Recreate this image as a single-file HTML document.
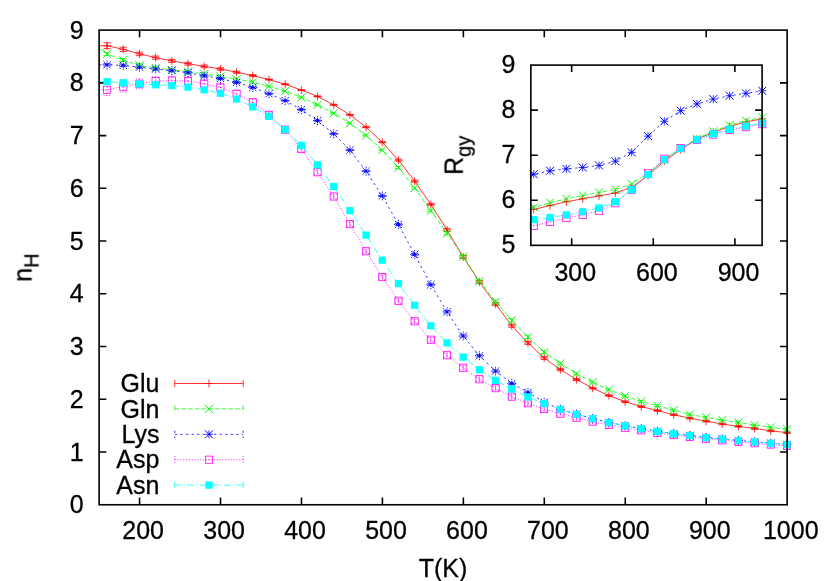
<!DOCTYPE html>
<html><head><meta charset="utf-8"><title>n_H vs T</title>
<style>html,body{margin:0;padding:0;background:#fff;}body{width:830px;height:581px;position:relative;overflow:hidden;font-family:"Liberation Sans",sans-serif;}</style>
</head><body>
<svg width="830" height="581" viewBox="0 0 830 581" style="position:absolute;left:0;top:0">
<rect width="830" height="581" fill="#fff"/>
<g stroke="#000" stroke-width="1.6" fill="none" stroke-linecap="butt"><path d="M139.57 504.75V497.55M139.57 30.1V37.3"/><path d="M220.52 504.75V497.55M220.52 30.1V37.3"/><path d="M301.47 504.75V497.55M301.47 30.1V37.3"/><path d="M382.41 504.75V497.55M382.41 30.1V37.3"/><path d="M463.36 504.75V497.55M463.36 30.1V37.3"/><path d="M544.31 504.75V497.55M544.31 30.1V37.3"/><path d="M625.26 504.75V497.55M625.26 30.1V37.3"/><path d="M706.2 504.75V497.55M706.2 30.1V37.3"/><path d="M99.1 452.01H106.3M787.15 452.01H779.95"/><path d="M99.1 399.27H106.3M787.15 399.27H779.95"/><path d="M99.1 346.53H106.3M787.15 346.53H779.95"/><path d="M99.1 293.79H106.3M787.15 293.79H779.95"/><path d="M99.1 241.06H106.3M787.15 241.06H779.95"/><path d="M99.1 188.32H106.3M787.15 188.32H779.95"/><path d="M99.1 135.58H106.3M787.15 135.58H779.95"/><path d="M99.1 82.84H106.3M787.15 82.84H779.95"/></g>
<path d="M99.1 45.74 L107.09 45.74 L123.28 49.32 L139.47 53.91 L155.66 57.64 L171.85 60.86 L188.03 63.75 L204.22 66.39 L220.41 69.02 L236.6 72.18 L252.79 75.6 L268.97 79.55 L285.16 84.29 L301.35 90.09 L317.54 96.41 L333.73 104.83 L349.91 114.84 L366.1 127.16 L382.29 142.23 L398.48 160.13 L414.67 181.2 L430.85 204.37 L447.04 229.92 L463.23 257.04 L479.42 281.95 L495.61 304.18 L511.79 325.77 L527.98 342.89 L544.17 357.95 L560.36 369.54 L576.55 379.55 L592.73 388.18 L608.92 395.56 L625.11 401.72 L641.3 406.62 L657.49 410.57 L673.67 414.78 L689.86 418.2 L706.05 421.15 L722.24 424 L738.43 426.37 L754.61 428.47 L770.8 430.84 L786.99 432.69" stroke="#ff0000" stroke-width="0.8" fill="none" stroke-linejoin="round"/><path d="M107.09 42.84V48.64M103.49 42.84H110.69M103.49 48.64H110.69" stroke="#ff0000" stroke-width="0.8" fill="none"/><path d="M103.09 45.74H111.09M107.09 41.74V49.74" stroke="#ff0000" stroke-width="0.8" fill="none"/><path d="M123.28 47.22V51.42M119.68 47.22H126.88M119.68 51.42H126.88" stroke="#ff0000" stroke-width="0.8" fill="none"/><path d="M119.28 49.32H127.28M123.28 45.32V53.32" stroke="#ff0000" stroke-width="0.8" fill="none"/><path d="M139.47 52.16V55.66M135.87 52.16H143.07M135.87 55.66H143.07" stroke="#ff0000" stroke-width="0.8" fill="none"/><path d="M135.47 53.91H143.47M139.47 49.91V57.91" stroke="#ff0000" stroke-width="0.8" fill="none"/><path d="M155.66 56.04V59.24M152.06 56.04H159.26M152.06 59.24H159.26" stroke="#ff0000" stroke-width="0.8" fill="none"/><path d="M151.66 57.64H159.66M155.66 53.64V61.64" stroke="#ff0000" stroke-width="0.8" fill="none"/><path d="M171.85 59.36V62.36M168.25 59.36H175.45M168.25 62.36H175.45" stroke="#ff0000" stroke-width="0.8" fill="none"/><path d="M167.85 60.86H175.85M171.85 56.86V64.86" stroke="#ff0000" stroke-width="0.8" fill="none"/><path d="M188.03 62.35V65.15M184.43 62.35H191.63M184.43 65.15H191.63" stroke="#ff0000" stroke-width="0.8" fill="none"/><path d="M184.03 63.75H192.03M188.03 59.75V67.75" stroke="#ff0000" stroke-width="0.8" fill="none"/><path d="M204.22 65.09V67.69M200.62 65.09H207.82M200.62 67.69H207.82" stroke="#ff0000" stroke-width="0.8" fill="none"/><path d="M200.22 66.39H208.22M204.22 62.39V70.39" stroke="#ff0000" stroke-width="0.8" fill="none"/><path d="M220.41 67.82V70.22M216.81 67.82H224.01M216.81 70.22H224.01" stroke="#ff0000" stroke-width="0.8" fill="none"/><path d="M216.41 69.02H224.41M220.41 65.02V73.02" stroke="#ff0000" stroke-width="0.8" fill="none"/><path d="M236.6 71.08V73.28M233 71.08H240.2M233 73.28H240.2" stroke="#ff0000" stroke-width="0.8" fill="none"/><path d="M232.6 72.18H240.6M236.6 68.18V76.18" stroke="#ff0000" stroke-width="0.8" fill="none"/><path d="M252.79 74.6V76.6M249.19 74.6H256.39M249.19 76.6H256.39" stroke="#ff0000" stroke-width="0.8" fill="none"/><path d="M248.79 75.6H256.79M252.79 71.6V79.6" stroke="#ff0000" stroke-width="0.8" fill="none"/><path d="M268.97 79V80.1M265.37 79H272.57M265.37 80.1H272.57" stroke="#ff0000" stroke-width="0.8" fill="none"/><path d="M264.97 79.55H272.97M268.97 75.55V83.55" stroke="#ff0000" stroke-width="0.8" fill="none"/><path d="M285.16 83.74V84.84M281.56 83.74H288.76M281.56 84.84H288.76" stroke="#ff0000" stroke-width="0.8" fill="none"/><path d="M281.16 84.29H289.16M285.16 80.29V88.29" stroke="#ff0000" stroke-width="0.8" fill="none"/><path d="M301.35 89.54V90.64M297.75 89.54H304.95M297.75 90.64H304.95" stroke="#ff0000" stroke-width="0.8" fill="none"/><path d="M297.35 90.09H305.35M301.35 86.09V94.09" stroke="#ff0000" stroke-width="0.8" fill="none"/><path d="M317.54 95.86V96.96M313.94 95.86H321.14M313.94 96.96H321.14" stroke="#ff0000" stroke-width="0.8" fill="none"/><path d="M313.54 96.41H321.54M317.54 92.41V100.41" stroke="#ff0000" stroke-width="0.8" fill="none"/><path d="M333.73 104.28V105.38M330.13 104.28H337.33M330.13 105.38H337.33" stroke="#ff0000" stroke-width="0.8" fill="none"/><path d="M329.73 104.83H337.73M333.73 100.83V108.83" stroke="#ff0000" stroke-width="0.8" fill="none"/><path d="M349.91 114.29V115.39M346.31 114.29H353.51M346.31 115.39H353.51" stroke="#ff0000" stroke-width="0.8" fill="none"/><path d="M345.91 114.84H353.91M349.91 110.84V118.84" stroke="#ff0000" stroke-width="0.8" fill="none"/><path d="M366.1 126.61V127.71M362.5 126.61H369.7M362.5 127.71H369.7" stroke="#ff0000" stroke-width="0.8" fill="none"/><path d="M362.1 127.16H370.1M366.1 123.16V131.16" stroke="#ff0000" stroke-width="0.8" fill="none"/><path d="M382.29 141.68V142.78M378.69 141.68H385.89M378.69 142.78H385.89" stroke="#ff0000" stroke-width="0.8" fill="none"/><path d="M378.29 142.23H386.29M382.29 138.23V146.23" stroke="#ff0000" stroke-width="0.8" fill="none"/><path d="M398.48 159.13V161.13M394.88 159.13H402.08M394.88 161.13H402.08" stroke="#ff0000" stroke-width="0.8" fill="none"/><path d="M394.48 160.13H402.48M398.48 156.13V164.13" stroke="#ff0000" stroke-width="0.8" fill="none"/><path d="M414.67 180.2V182.2M411.07 180.2H418.27M411.07 182.2H418.27" stroke="#ff0000" stroke-width="0.8" fill="none"/><path d="M410.67 181.2H418.67M414.67 177.2V185.2" stroke="#ff0000" stroke-width="0.8" fill="none"/><path d="M430.85 203.37V205.37M427.25 203.37H434.45M427.25 205.37H434.45" stroke="#ff0000" stroke-width="0.8" fill="none"/><path d="M426.85 204.37H434.85M430.85 200.37V208.37" stroke="#ff0000" stroke-width="0.8" fill="none"/><path d="M447.04 228.42V231.42M443.44 228.42H450.64M443.44 231.42H450.64" stroke="#ff0000" stroke-width="0.8" fill="none"/><path d="M443.04 229.92H451.04M447.04 225.92V233.92" stroke="#ff0000" stroke-width="0.8" fill="none"/><path d="M463.23 255.54V258.54M459.63 255.54H466.83M459.63 258.54H466.83" stroke="#ff0000" stroke-width="0.8" fill="none"/><path d="M459.23 257.04H467.23M463.23 253.04V261.04" stroke="#ff0000" stroke-width="0.8" fill="none"/><path d="M479.42 280.45V283.45M475.82 280.45H483.02M475.82 283.45H483.02" stroke="#ff0000" stroke-width="0.8" fill="none"/><path d="M475.42 281.95H483.42M479.42 277.95V285.95" stroke="#ff0000" stroke-width="0.8" fill="none"/><path d="M495.61 302.68V305.68M492.01 302.68H499.21M492.01 305.68H499.21" stroke="#ff0000" stroke-width="0.8" fill="none"/><path d="M491.61 304.18H499.61M495.61 300.18V308.18" stroke="#ff0000" stroke-width="0.8" fill="none"/><path d="M511.79 324.27V327.27M508.19 324.27H515.39M508.19 327.27H515.39" stroke="#ff0000" stroke-width="0.8" fill="none"/><path d="M507.79 325.77H515.79M511.79 321.77V329.77" stroke="#ff0000" stroke-width="0.8" fill="none"/><path d="M527.98 341.39V344.39M524.38 341.39H531.58M524.38 344.39H531.58" stroke="#ff0000" stroke-width="0.8" fill="none"/><path d="M523.98 342.89H531.98M527.98 338.89V346.89" stroke="#ff0000" stroke-width="0.8" fill="none"/><path d="M544.17 356.45V359.45M540.57 356.45H547.77M540.57 359.45H547.77" stroke="#ff0000" stroke-width="0.8" fill="none"/><path d="M540.17 357.95H548.17M544.17 353.95V361.95" stroke="#ff0000" stroke-width="0.8" fill="none"/><path d="M560.36 368.34V370.74M556.76 368.34H563.96M556.76 370.74H563.96" stroke="#ff0000" stroke-width="0.8" fill="none"/><path d="M556.36 369.54H564.36M560.36 365.54V373.54" stroke="#ff0000" stroke-width="0.8" fill="none"/><path d="M576.55 378.55V380.55M572.95 378.55H580.15M572.95 380.55H580.15" stroke="#ff0000" stroke-width="0.8" fill="none"/><path d="M572.55 379.55H580.55M576.55 375.55V383.55" stroke="#ff0000" stroke-width="0.8" fill="none"/><path d="M592.73 387.38V388.98M589.13 387.38H596.33M589.13 388.98H596.33" stroke="#ff0000" stroke-width="0.8" fill="none"/><path d="M588.73 388.18H596.73M592.73 384.18V392.18" stroke="#ff0000" stroke-width="0.8" fill="none"/><path d="M608.92 394.76V396.36M605.32 394.76H612.52M605.32 396.36H612.52" stroke="#ff0000" stroke-width="0.8" fill="none"/><path d="M604.92 395.56H612.92M608.92 391.56V399.56" stroke="#ff0000" stroke-width="0.8" fill="none"/><path d="M625.11 400.92V402.52M621.51 400.92H628.71M621.51 402.52H628.71" stroke="#ff0000" stroke-width="0.8" fill="none"/><path d="M621.11 401.72H629.11M625.11 397.72V405.72" stroke="#ff0000" stroke-width="0.8" fill="none"/><path d="M641.3 405.82V407.42M637.7 405.82H644.9M637.7 407.42H644.9" stroke="#ff0000" stroke-width="0.8" fill="none"/><path d="M637.3 406.62H645.3M641.3 402.62V410.62" stroke="#ff0000" stroke-width="0.8" fill="none"/><path d="M657.49 409.77V411.37M653.89 409.77H661.09M653.89 411.37H661.09" stroke="#ff0000" stroke-width="0.8" fill="none"/><path d="M653.49 410.57H661.49M657.49 406.57V414.57" stroke="#ff0000" stroke-width="0.8" fill="none"/><path d="M673.67 413.98V415.58M670.07 413.98H677.27M670.07 415.58H677.27" stroke="#ff0000" stroke-width="0.8" fill="none"/><path d="M669.67 414.78H677.67M673.67 410.78V418.78" stroke="#ff0000" stroke-width="0.8" fill="none"/><path d="M689.86 417.4V419M686.26 417.4H693.46M686.26 419H693.46" stroke="#ff0000" stroke-width="0.8" fill="none"/><path d="M685.86 418.2H693.86M689.86 414.2V422.2" stroke="#ff0000" stroke-width="0.8" fill="none"/><path d="M706.05 420.35V421.95M702.45 420.35H709.65M702.45 421.95H709.65" stroke="#ff0000" stroke-width="0.8" fill="none"/><path d="M702.05 421.15H710.05M706.05 417.15V425.15" stroke="#ff0000" stroke-width="0.8" fill="none"/><path d="M722.24 423.2V424.8M718.64 423.2H725.84M718.64 424.8H725.84" stroke="#ff0000" stroke-width="0.8" fill="none"/><path d="M718.24 424H726.24M722.24 420V428" stroke="#ff0000" stroke-width="0.8" fill="none"/><path d="M738.43 425.57V427.17M734.83 425.57H742.03M734.83 427.17H742.03" stroke="#ff0000" stroke-width="0.8" fill="none"/><path d="M734.43 426.37H742.43M738.43 422.37V430.37" stroke="#ff0000" stroke-width="0.8" fill="none"/><path d="M754.61 427.67V429.27M751.01 427.67H758.21M751.01 429.27H758.21" stroke="#ff0000" stroke-width="0.8" fill="none"/><path d="M750.61 428.47H758.61M754.61 424.47V432.47" stroke="#ff0000" stroke-width="0.8" fill="none"/><path d="M770.8 430.04V431.64M767.2 430.04H774.4M767.2 431.64H774.4" stroke="#ff0000" stroke-width="0.8" fill="none"/><path d="M766.8 430.84H774.8M770.8 426.84V434.84" stroke="#ff0000" stroke-width="0.8" fill="none"/><path d="M786.99 431.89V433.49M783.39 431.89H790.59M783.39 433.49H790.59" stroke="#ff0000" stroke-width="0.8" fill="none"/><path d="M782.99 432.69H790.99M786.99 428.69V436.69" stroke="#ff0000" stroke-width="0.8" fill="none"/>
<path d="M99.1 48.36 L107.09 53.96 L123.28 60.07 L139.47 65.33 L155.66 67.97 L171.85 70.07 L188.03 71.65 L204.22 74.02 L220.41 76.39 L236.6 79.03 L252.79 81.92 L268.97 86.4 L285.16 91.14 L301.35 97.46 L317.54 104.83 L333.73 113.26 L349.91 123.27 L366.1 135.38 L382.29 150.13 L398.48 167.51 L414.67 188.05 L430.85 210.69 L447.04 233.34 L463.23 256.52 L479.42 281.27 L495.61 301.81 L511.79 320.24 L527.98 337.1 L544.17 352.05 L560.36 363.53 L576.55 373.75 L592.73 382.07 L608.92 389.55 L625.11 396.08 L641.3 401.35 L657.49 405.72 L673.67 410.14 L689.86 414.52 L706.05 417.25 L722.24 420.15 L738.43 422.47 L754.61 425.05 L770.8 427.31 L786.99 429.26" stroke="#00ff00" stroke-width="0.8" fill="none" stroke-dasharray="4.48 2.24" stroke-linejoin="round"/><path d="M107.09 52.36V55.56M103.49 52.36H110.69M103.49 55.56H110.69" stroke="#00ff00" stroke-width="0.8" fill="none" stroke-dasharray="4.48 2.24"/><path d="M103.09 49.96L111.09 57.96M103.09 57.96L111.09 49.96" stroke="#00ff00" stroke-width="1.0" fill="none"/><path d="M123.28 58.47V61.67M119.68 58.47H126.88M119.68 61.67H126.88" stroke="#00ff00" stroke-width="0.8" fill="none" stroke-dasharray="4.48 2.24"/><path d="M119.28 56.07L127.28 64.07M119.28 64.07L127.28 56.07" stroke="#00ff00" stroke-width="1.0" fill="none"/><path d="M139.47 63.73V66.93M135.87 63.73H143.07M135.87 66.93H143.07" stroke="#00ff00" stroke-width="0.8" fill="none" stroke-dasharray="4.48 2.24"/><path d="M135.47 61.33L143.47 69.33M135.47 69.33L143.47 61.33" stroke="#00ff00" stroke-width="1.0" fill="none"/><path d="M155.66 66.37V69.57M152.06 66.37H159.26M152.06 69.57H159.26" stroke="#00ff00" stroke-width="0.8" fill="none" stroke-dasharray="4.48 2.24"/><path d="M151.66 63.97L159.66 71.97M151.66 71.97L159.66 63.97" stroke="#00ff00" stroke-width="1.0" fill="none"/><path d="M171.85 68.57V71.57M168.25 68.57H175.45M168.25 71.57H175.45" stroke="#00ff00" stroke-width="0.8" fill="none" stroke-dasharray="4.48 2.24"/><path d="M167.85 66.07L175.85 74.07M167.85 74.07L175.85 66.07" stroke="#00ff00" stroke-width="1.0" fill="none"/><path d="M188.03 70.25V73.05M184.43 70.25H191.63M184.43 73.05H191.63" stroke="#00ff00" stroke-width="0.8" fill="none" stroke-dasharray="4.48 2.24"/><path d="M184.03 67.65L192.03 75.65M184.03 75.65L192.03 67.65" stroke="#00ff00" stroke-width="1.0" fill="none"/><path d="M204.22 72.72V75.32M200.62 72.72H207.82M200.62 75.32H207.82" stroke="#00ff00" stroke-width="0.8" fill="none" stroke-dasharray="4.48 2.24"/><path d="M200.22 70.02L208.22 78.02M200.22 78.02L208.22 70.02" stroke="#00ff00" stroke-width="1.0" fill="none"/><path d="M220.41 75.19V77.59M216.81 75.19H224.01M216.81 77.59H224.01" stroke="#00ff00" stroke-width="0.8" fill="none" stroke-dasharray="4.48 2.24"/><path d="M216.41 72.39L224.41 80.39M216.41 80.39L224.41 72.39" stroke="#00ff00" stroke-width="1.0" fill="none"/><path d="M236.6 77.93V80.13M233 77.93H240.2M233 80.13H240.2" stroke="#00ff00" stroke-width="0.8" fill="none" stroke-dasharray="4.48 2.24"/><path d="M232.6 75.03L240.6 83.03M232.6 83.03L240.6 75.03" stroke="#00ff00" stroke-width="1.0" fill="none"/><path d="M252.79 80.92V82.92M249.19 80.92H256.39M249.19 82.92H256.39" stroke="#00ff00" stroke-width="0.8" fill="none" stroke-dasharray="4.48 2.24"/><path d="M248.79 77.92L256.79 85.92M248.79 85.92L256.79 77.92" stroke="#00ff00" stroke-width="1.0" fill="none"/><path d="M268.97 85.85V86.95M265.37 85.85H272.57M265.37 86.95H272.57" stroke="#00ff00" stroke-width="0.8" fill="none" stroke-dasharray="4.48 2.24"/><path d="M264.97 82.4L272.97 90.4M264.97 90.4L272.97 82.4" stroke="#00ff00" stroke-width="1.0" fill="none"/><path d="M285.16 90.59V91.69M281.56 90.59H288.76M281.56 91.69H288.76" stroke="#00ff00" stroke-width="0.8" fill="none" stroke-dasharray="4.48 2.24"/><path d="M281.16 87.14L289.16 95.14M281.16 95.14L289.16 87.14" stroke="#00ff00" stroke-width="1.0" fill="none"/><path d="M301.35 96.91V98.01M297.75 96.91H304.95M297.75 98.01H304.95" stroke="#00ff00" stroke-width="0.8" fill="none" stroke-dasharray="4.48 2.24"/><path d="M297.35 93.46L305.35 101.46M297.35 101.46L305.35 93.46" stroke="#00ff00" stroke-width="1.0" fill="none"/><path d="M317.54 104.28V105.38M313.94 104.28H321.14M313.94 105.38H321.14" stroke="#00ff00" stroke-width="0.8" fill="none" stroke-dasharray="4.48 2.24"/><path d="M313.54 100.83L321.54 108.83M313.54 108.83L321.54 100.83" stroke="#00ff00" stroke-width="1.0" fill="none"/><path d="M333.73 112.71V113.81M330.13 112.71H337.33M330.13 113.81H337.33" stroke="#00ff00" stroke-width="0.8" fill="none" stroke-dasharray="4.48 2.24"/><path d="M329.73 109.26L337.73 117.26M329.73 117.26L337.73 109.26" stroke="#00ff00" stroke-width="1.0" fill="none"/><path d="M349.91 122.72V123.82M346.31 122.72H353.51M346.31 123.82H353.51" stroke="#00ff00" stroke-width="0.8" fill="none" stroke-dasharray="4.48 2.24"/><path d="M345.91 119.27L353.91 127.27M345.91 127.27L353.91 119.27" stroke="#00ff00" stroke-width="1.0" fill="none"/><path d="M366.1 134.83V135.93M362.5 134.83H369.7M362.5 135.93H369.7" stroke="#00ff00" stroke-width="0.8" fill="none" stroke-dasharray="4.48 2.24"/><path d="M362.1 131.38L370.1 139.38M362.1 139.38L370.1 131.38" stroke="#00ff00" stroke-width="1.0" fill="none"/><path d="M382.29 149.58V150.68M378.69 149.58H385.89M378.69 150.68H385.89" stroke="#00ff00" stroke-width="0.8" fill="none" stroke-dasharray="4.48 2.24"/><path d="M378.29 146.13L386.29 154.13M378.29 154.13L386.29 146.13" stroke="#00ff00" stroke-width="1.0" fill="none"/><path d="M398.48 166.51V168.51M394.88 166.51H402.08M394.88 168.51H402.08" stroke="#00ff00" stroke-width="0.8" fill="none" stroke-dasharray="4.48 2.24"/><path d="M394.48 163.51L402.48 171.51M394.48 171.51L402.48 163.51" stroke="#00ff00" stroke-width="1.0" fill="none"/><path d="M414.67 187.05V189.05M411.07 187.05H418.27M411.07 189.05H418.27" stroke="#00ff00" stroke-width="0.8" fill="none" stroke-dasharray="4.48 2.24"/><path d="M410.67 184.05L418.67 192.05M410.67 192.05L418.67 184.05" stroke="#00ff00" stroke-width="1.0" fill="none"/><path d="M430.85 209.69V211.69M427.25 209.69H434.45M427.25 211.69H434.45" stroke="#00ff00" stroke-width="0.8" fill="none" stroke-dasharray="4.48 2.24"/><path d="M426.85 206.69L434.85 214.69M426.85 214.69L434.85 206.69" stroke="#00ff00" stroke-width="1.0" fill="none"/><path d="M447.04 231.84V234.84M443.44 231.84H450.64M443.44 234.84H450.64" stroke="#00ff00" stroke-width="0.8" fill="none" stroke-dasharray="4.48 2.24"/><path d="M443.04 229.34L451.04 237.34M443.04 237.34L451.04 229.34" stroke="#00ff00" stroke-width="1.0" fill="none"/><path d="M463.23 255.02V258.02M459.63 255.02H466.83M459.63 258.02H466.83" stroke="#00ff00" stroke-width="0.8" fill="none" stroke-dasharray="4.48 2.24"/><path d="M459.23 252.52L467.23 260.52M459.23 260.52L467.23 252.52" stroke="#00ff00" stroke-width="1.0" fill="none"/><path d="M479.42 279.77V282.77M475.82 279.77H483.02M475.82 282.77H483.02" stroke="#00ff00" stroke-width="0.8" fill="none" stroke-dasharray="4.48 2.24"/><path d="M475.42 277.27L483.42 285.27M475.42 285.27L483.42 277.27" stroke="#00ff00" stroke-width="1.0" fill="none"/><path d="M495.61 300.31V303.31M492.01 300.31H499.21M492.01 303.31H499.21" stroke="#00ff00" stroke-width="0.8" fill="none" stroke-dasharray="4.48 2.24"/><path d="M491.61 297.81L499.61 305.81M491.61 305.81L499.61 297.81" stroke="#00ff00" stroke-width="1.0" fill="none"/><path d="M511.79 318.74V321.74M508.19 318.74H515.39M508.19 321.74H515.39" stroke="#00ff00" stroke-width="0.8" fill="none" stroke-dasharray="4.48 2.24"/><path d="M507.79 316.24L515.79 324.24M507.79 324.24L515.79 316.24" stroke="#00ff00" stroke-width="1.0" fill="none"/><path d="M527.98 335.6V338.6M524.38 335.6H531.58M524.38 338.6H531.58" stroke="#00ff00" stroke-width="0.8" fill="none" stroke-dasharray="4.48 2.24"/><path d="M523.98 333.1L531.98 341.1M523.98 341.1L531.98 333.1" stroke="#00ff00" stroke-width="1.0" fill="none"/><path d="M544.17 350.55V353.55M540.57 350.55H547.77M540.57 353.55H547.77" stroke="#00ff00" stroke-width="0.8" fill="none" stroke-dasharray="4.48 2.24"/><path d="M540.17 348.05L548.17 356.05M540.17 356.05L548.17 348.05" stroke="#00ff00" stroke-width="1.0" fill="none"/><path d="M560.36 362.33V364.73M556.76 362.33H563.96M556.76 364.73H563.96" stroke="#00ff00" stroke-width="0.8" fill="none" stroke-dasharray="4.48 2.24"/><path d="M556.36 359.53L564.36 367.53M556.36 367.53L564.36 359.53" stroke="#00ff00" stroke-width="1.0" fill="none"/><path d="M576.55 372.75V374.75M572.95 372.75H580.15M572.95 374.75H580.15" stroke="#00ff00" stroke-width="0.8" fill="none" stroke-dasharray="4.48 2.24"/><path d="M572.55 369.75L580.55 377.75M572.55 377.75L580.55 369.75" stroke="#00ff00" stroke-width="1.0" fill="none"/><path d="M592.73 381.27V382.87M589.13 381.27H596.33M589.13 382.87H596.33" stroke="#00ff00" stroke-width="0.8" fill="none" stroke-dasharray="4.48 2.24"/><path d="M588.73 378.07L596.73 386.07M588.73 386.07L596.73 378.07" stroke="#00ff00" stroke-width="1.0" fill="none"/><path d="M608.92 388.75V390.35M605.32 388.75H612.52M605.32 390.35H612.52" stroke="#00ff00" stroke-width="0.8" fill="none" stroke-dasharray="4.48 2.24"/><path d="M604.92 385.55L612.92 393.55M604.92 393.55L612.92 385.55" stroke="#00ff00" stroke-width="1.0" fill="none"/><path d="M625.11 395.28V396.88M621.51 395.28H628.71M621.51 396.88H628.71" stroke="#00ff00" stroke-width="0.8" fill="none" stroke-dasharray="4.48 2.24"/><path d="M621.11 392.08L629.11 400.08M621.11 400.08L629.11 392.08" stroke="#00ff00" stroke-width="1.0" fill="none"/><path d="M641.3 400.55V402.15M637.7 400.55H644.9M637.7 402.15H644.9" stroke="#00ff00" stroke-width="0.8" fill="none" stroke-dasharray="4.48 2.24"/><path d="M637.3 397.35L645.3 405.35M637.3 405.35L645.3 397.35" stroke="#00ff00" stroke-width="1.0" fill="none"/><path d="M657.49 404.92V406.52M653.89 404.92H661.09M653.89 406.52H661.09" stroke="#00ff00" stroke-width="0.8" fill="none" stroke-dasharray="4.48 2.24"/><path d="M653.49 401.72L661.49 409.72M653.49 409.72L661.49 401.72" stroke="#00ff00" stroke-width="1.0" fill="none"/><path d="M673.67 409.34V410.94M670.07 409.34H677.27M670.07 410.94H677.27" stroke="#00ff00" stroke-width="0.8" fill="none" stroke-dasharray="4.48 2.24"/><path d="M669.67 406.14L677.67 414.14M669.67 414.14L677.67 406.14" stroke="#00ff00" stroke-width="1.0" fill="none"/><path d="M689.86 413.72V415.32M686.26 413.72H693.46M686.26 415.32H693.46" stroke="#00ff00" stroke-width="0.8" fill="none" stroke-dasharray="4.48 2.24"/><path d="M685.86 410.52L693.86 418.52M685.86 418.52L693.86 410.52" stroke="#00ff00" stroke-width="1.0" fill="none"/><path d="M706.05 416.45V418.05M702.45 416.45H709.65M702.45 418.05H709.65" stroke="#00ff00" stroke-width="0.8" fill="none" stroke-dasharray="4.48 2.24"/><path d="M702.05 413.25L710.05 421.25M702.05 421.25L710.05 413.25" stroke="#00ff00" stroke-width="1.0" fill="none"/><path d="M722.24 419.35V420.95M718.64 419.35H725.84M718.64 420.95H725.84" stroke="#00ff00" stroke-width="0.8" fill="none" stroke-dasharray="4.48 2.24"/><path d="M718.24 416.15L726.24 424.15M718.24 424.15L726.24 416.15" stroke="#00ff00" stroke-width="1.0" fill="none"/><path d="M738.43 421.67V423.27M734.83 421.67H742.03M734.83 423.27H742.03" stroke="#00ff00" stroke-width="0.8" fill="none" stroke-dasharray="4.48 2.24"/><path d="M734.43 418.47L742.43 426.47M734.43 426.47L742.43 418.47" stroke="#00ff00" stroke-width="1.0" fill="none"/><path d="M754.61 424.25V425.85M751.01 424.25H758.21M751.01 425.85H758.21" stroke="#00ff00" stroke-width="0.8" fill="none" stroke-dasharray="4.48 2.24"/><path d="M750.61 421.05L758.61 429.05M750.61 429.05L758.61 421.05" stroke="#00ff00" stroke-width="1.0" fill="none"/><path d="M770.8 426.51V428.11M767.2 426.51H774.4M767.2 428.11H774.4" stroke="#00ff00" stroke-width="0.8" fill="none" stroke-dasharray="4.48 2.24"/><path d="M766.8 423.31L774.8 431.31M766.8 431.31L774.8 423.31" stroke="#00ff00" stroke-width="1.0" fill="none"/><path d="M786.99 428.46V430.06M783.39 428.46H790.59M783.39 430.06H790.59" stroke="#00ff00" stroke-width="0.8" fill="none" stroke-dasharray="4.48 2.24"/><path d="M782.99 425.26L790.99 433.26M782.99 433.26L790.99 425.26" stroke="#00ff00" stroke-width="1.0" fill="none"/>
<path d="M99.1 64.81 L107.09 64.81 L123.28 65.33 L139.47 67.18 L155.66 69.02 L171.85 70.6 L188.03 72.71 L204.22 75.87 L220.41 78.5 L236.6 82.45 L252.79 87.45 L268.97 93.77 L285.16 100.62 L301.35 109.57 L317.54 120.63 L333.73 133.8 L349.91 150.13 L366.1 171.19 L382.29 195.95 L398.48 224.39 L414.67 254.41 L430.85 284.64 L447.04 311.82 L463.23 336.04 L479.42 355.79 L495.61 371.07 L511.79 383.44 L527.98 392.4 L544.17 402.24 L560.36 409.3 L576.55 414.09 L592.73 418.57 L608.92 422.42 L625.11 425.68 L641.3 428.58 L657.49 431.21 L673.67 433.53 L689.86 435.42 L706.05 437.37 L722.24 438.9 L738.43 440.48 L754.61 441.74 L770.8 443.17 L786.99 444.48" stroke="#0000ff" stroke-width="0.8" fill="none" stroke-dasharray="2.24 3.36" stroke-linejoin="round"/><path d="M107.09 63.61V66.01M103.49 63.61H110.69M103.49 66.01H110.69" stroke="#0000ff" stroke-width="0.8" fill="none" stroke-dasharray="2.24 3.36"/><path d="M107.09 64.81L111.49 64.81M107.09 64.81L102.69 64.81M107.09 64.81L107.09 69.21M107.09 64.81L107.09 60.41M107.09 64.81L111.49 69.21M107.09 64.81L102.69 60.41M107.09 64.81L111.49 60.41M107.09 64.81L102.69 69.21" stroke="#0000ff" stroke-width="1.0" fill="none" stroke-dasharray="2.5 0.8 1.8 9"/><path d="M123.28 64.13V66.53M119.68 64.13H126.88M119.68 66.53H126.88" stroke="#0000ff" stroke-width="0.8" fill="none" stroke-dasharray="2.24 3.36"/><path d="M123.28 65.33L127.68 65.33M123.28 65.33L118.88 65.33M123.28 65.33L123.28 69.73M123.28 65.33L123.28 60.93M123.28 65.33L127.68 69.73M123.28 65.33L118.88 60.93M123.28 65.33L127.68 60.93M123.28 65.33L118.88 69.73" stroke="#0000ff" stroke-width="1.0" fill="none" stroke-dasharray="2.5 0.8 1.8 9"/><path d="M139.47 65.98V68.38M135.87 65.98H143.07M135.87 68.38H143.07" stroke="#0000ff" stroke-width="0.8" fill="none" stroke-dasharray="2.24 3.36"/><path d="M139.47 67.18L143.87 67.18M139.47 67.18L135.07 67.18M139.47 67.18L139.47 71.58M139.47 67.18L139.47 62.78M139.47 67.18L143.87 71.58M139.47 67.18L135.07 62.78M139.47 67.18L143.87 62.78M139.47 67.18L135.07 71.58" stroke="#0000ff" stroke-width="1.0" fill="none" stroke-dasharray="2.5 0.8 1.8 9"/><path d="M155.66 67.82V70.22M152.06 67.82H159.26M152.06 70.22H159.26" stroke="#0000ff" stroke-width="0.8" fill="none" stroke-dasharray="2.24 3.36"/><path d="M155.66 69.02L160.06 69.02M155.66 69.02L151.26 69.02M155.66 69.02L155.66 73.42M155.66 69.02L155.66 64.62M155.66 69.02L160.06 73.42M155.66 69.02L151.26 64.62M155.66 69.02L160.06 64.62M155.66 69.02L151.26 73.42" stroke="#0000ff" stroke-width="1.0" fill="none" stroke-dasharray="2.5 0.8 1.8 9"/><path d="M171.85 69.4V71.8M168.25 69.4H175.45M168.25 71.8H175.45" stroke="#0000ff" stroke-width="0.8" fill="none" stroke-dasharray="2.24 3.36"/><path d="M171.85 70.6L176.25 70.6M171.85 70.6L167.45 70.6M171.85 70.6L171.85 75M171.85 70.6L171.85 66.2M171.85 70.6L176.25 75M171.85 70.6L167.45 66.2M171.85 70.6L176.25 66.2M171.85 70.6L167.45 75" stroke="#0000ff" stroke-width="1.0" fill="none" stroke-dasharray="2.5 0.8 1.8 9"/><path d="M188.03 71.51V73.91M184.43 71.51H191.63M184.43 73.91H191.63" stroke="#0000ff" stroke-width="0.8" fill="none" stroke-dasharray="2.24 3.36"/><path d="M188.03 72.71L192.43 72.71M188.03 72.71L183.63 72.71M188.03 72.71L188.03 77.11M188.03 72.71L188.03 68.31M188.03 72.71L192.43 77.11M188.03 72.71L183.63 68.31M188.03 72.71L192.43 68.31M188.03 72.71L183.63 77.11" stroke="#0000ff" stroke-width="1.0" fill="none" stroke-dasharray="2.5 0.8 1.8 9"/><path d="M204.22 74.67V77.07M200.62 74.67H207.82M200.62 77.07H207.82" stroke="#0000ff" stroke-width="0.8" fill="none" stroke-dasharray="2.24 3.36"/><path d="M204.22 75.87L208.62 75.87M204.22 75.87L199.82 75.87M204.22 75.87L204.22 80.27M204.22 75.87L204.22 71.47M204.22 75.87L208.62 80.27M204.22 75.87L199.82 71.47M204.22 75.87L208.62 71.47M204.22 75.87L199.82 80.27" stroke="#0000ff" stroke-width="1.0" fill="none" stroke-dasharray="2.5 0.8 1.8 9"/><path d="M220.41 77.3V79.7M216.81 77.3H224.01M216.81 79.7H224.01" stroke="#0000ff" stroke-width="0.8" fill="none" stroke-dasharray="2.24 3.36"/><path d="M220.41 78.5L224.81 78.5M220.41 78.5L216.01 78.5M220.41 78.5L220.41 82.9M220.41 78.5L220.41 74.1M220.41 78.5L224.81 82.9M220.41 78.5L216.01 74.1M220.41 78.5L224.81 74.1M220.41 78.5L216.01 82.9" stroke="#0000ff" stroke-width="1.0" fill="none" stroke-dasharray="2.5 0.8 1.8 9"/><path d="M236.6 81.35V83.55M233 81.35H240.2M233 83.55H240.2" stroke="#0000ff" stroke-width="0.8" fill="none" stroke-dasharray="2.24 3.36"/><path d="M236.6 82.45L241 82.45M236.6 82.45L232.2 82.45M236.6 82.45L236.6 86.85M236.6 82.45L236.6 78.05M236.6 82.45L241 86.85M236.6 82.45L232.2 78.05M236.6 82.45L241 78.05M236.6 82.45L232.2 86.85" stroke="#0000ff" stroke-width="1.0" fill="none" stroke-dasharray="2.5 0.8 1.8 9"/><path d="M252.79 86.45V88.45M249.19 86.45H256.39M249.19 88.45H256.39" stroke="#0000ff" stroke-width="0.8" fill="none" stroke-dasharray="2.24 3.36"/><path d="M252.79 87.45L257.19 87.45M252.79 87.45L248.39 87.45M252.79 87.45L252.79 91.85M252.79 87.45L252.79 83.05M252.79 87.45L257.19 91.85M252.79 87.45L248.39 83.05M252.79 87.45L257.19 83.05M252.79 87.45L248.39 91.85" stroke="#0000ff" stroke-width="1.0" fill="none" stroke-dasharray="2.5 0.8 1.8 9"/><path d="M268.97 93.22V94.32M265.37 93.22H272.57M265.37 94.32H272.57" stroke="#0000ff" stroke-width="0.8" fill="none" stroke-dasharray="2.24 3.36"/><path d="M268.97 93.77L273.37 93.77M268.97 93.77L264.57 93.77M268.97 93.77L268.97 98.17M268.97 93.77L268.97 89.37M268.97 93.77L273.37 98.17M268.97 93.77L264.57 89.37M268.97 93.77L273.37 89.37M268.97 93.77L264.57 98.17" stroke="#0000ff" stroke-width="1.0" fill="none" stroke-dasharray="2.5 0.8 1.8 9"/><path d="M285.16 100.07V101.17M281.56 100.07H288.76M281.56 101.17H288.76" stroke="#0000ff" stroke-width="0.8" fill="none" stroke-dasharray="2.24 3.36"/><path d="M285.16 100.62L289.56 100.62M285.16 100.62L280.76 100.62M285.16 100.62L285.16 105.02M285.16 100.62L285.16 96.22M285.16 100.62L289.56 105.02M285.16 100.62L280.76 96.22M285.16 100.62L289.56 96.22M285.16 100.62L280.76 105.02" stroke="#0000ff" stroke-width="1.0" fill="none" stroke-dasharray="2.5 0.8 1.8 9"/><path d="M301.35 109.02V110.12M297.75 109.02H304.95M297.75 110.12H304.95" stroke="#0000ff" stroke-width="0.8" fill="none" stroke-dasharray="2.24 3.36"/><path d="M301.35 109.57L305.75 109.57M301.35 109.57L296.95 109.57M301.35 109.57L301.35 113.97M301.35 109.57L301.35 105.17M301.35 109.57L305.75 113.97M301.35 109.57L296.95 105.17M301.35 109.57L305.75 105.17M301.35 109.57L296.95 113.97" stroke="#0000ff" stroke-width="1.0" fill="none" stroke-dasharray="2.5 0.8 1.8 9"/><path d="M317.54 120.08V121.18M313.94 120.08H321.14M313.94 121.18H321.14" stroke="#0000ff" stroke-width="0.8" fill="none" stroke-dasharray="2.24 3.36"/><path d="M317.54 120.63L321.94 120.63M317.54 120.63L313.14 120.63M317.54 120.63L317.54 125.03M317.54 120.63L317.54 116.23M317.54 120.63L321.94 125.03M317.54 120.63L313.14 116.23M317.54 120.63L321.94 116.23M317.54 120.63L313.14 125.03" stroke="#0000ff" stroke-width="1.0" fill="none" stroke-dasharray="2.5 0.8 1.8 9"/><path d="M333.73 133.25V134.35M330.13 133.25H337.33M330.13 134.35H337.33" stroke="#0000ff" stroke-width="0.8" fill="none" stroke-dasharray="2.24 3.36"/><path d="M333.73 133.8L338.13 133.8M333.73 133.8L329.33 133.8M333.73 133.8L333.73 138.2M333.73 133.8L333.73 129.4M333.73 133.8L338.13 138.2M333.73 133.8L329.33 129.4M333.73 133.8L338.13 129.4M333.73 133.8L329.33 138.2" stroke="#0000ff" stroke-width="1.0" fill="none" stroke-dasharray="2.5 0.8 1.8 9"/><path d="M349.91 149.58V150.68M346.31 149.58H353.51M346.31 150.68H353.51" stroke="#0000ff" stroke-width="0.8" fill="none" stroke-dasharray="2.24 3.36"/><path d="M349.91 150.13L354.31 150.13M349.91 150.13L345.51 150.13M349.91 150.13L349.91 154.53M349.91 150.13L349.91 145.73M349.91 150.13L354.31 154.53M349.91 150.13L345.51 145.73M349.91 150.13L354.31 145.73M349.91 150.13L345.51 154.53" stroke="#0000ff" stroke-width="1.0" fill="none" stroke-dasharray="2.5 0.8 1.8 9"/><path d="M366.1 170.64V171.74M362.5 170.64H369.7M362.5 171.74H369.7" stroke="#0000ff" stroke-width="0.8" fill="none" stroke-dasharray="2.24 3.36"/><path d="M366.1 171.19L370.5 171.19M366.1 171.19L361.7 171.19M366.1 171.19L366.1 175.59M366.1 171.19L366.1 166.79M366.1 171.19L370.5 175.59M366.1 171.19L361.7 166.79M366.1 171.19L370.5 166.79M366.1 171.19L361.7 175.59" stroke="#0000ff" stroke-width="1.0" fill="none" stroke-dasharray="2.5 0.8 1.8 9"/><path d="M382.29 195.4V196.5M378.69 195.4H385.89M378.69 196.5H385.89" stroke="#0000ff" stroke-width="0.8" fill="none" stroke-dasharray="2.24 3.36"/><path d="M382.29 195.95L386.69 195.95M382.29 195.95L377.89 195.95M382.29 195.95L382.29 200.35M382.29 195.95L382.29 191.55M382.29 195.95L386.69 200.35M382.29 195.95L377.89 191.55M382.29 195.95L386.69 191.55M382.29 195.95L377.89 200.35" stroke="#0000ff" stroke-width="1.0" fill="none" stroke-dasharray="2.5 0.8 1.8 9"/><path d="M398.48 223.39V225.39M394.88 223.39H402.08M394.88 225.39H402.08" stroke="#0000ff" stroke-width="0.8" fill="none" stroke-dasharray="2.24 3.36"/><path d="M398.48 224.39L402.88 224.39M398.48 224.39L394.08 224.39M398.48 224.39L398.48 228.79M398.48 224.39L398.48 219.99M398.48 224.39L402.88 228.79M398.48 224.39L394.08 219.99M398.48 224.39L402.88 219.99M398.48 224.39L394.08 228.79" stroke="#0000ff" stroke-width="1.0" fill="none" stroke-dasharray="2.5 0.8 1.8 9"/><path d="M414.67 253.41V255.41M411.07 253.41H418.27M411.07 255.41H418.27" stroke="#0000ff" stroke-width="0.8" fill="none" stroke-dasharray="2.24 3.36"/><path d="M414.67 254.41L419.07 254.41M414.67 254.41L410.27 254.41M414.67 254.41L414.67 258.81M414.67 254.41L414.67 250.01M414.67 254.41L419.07 258.81M414.67 254.41L410.27 250.01M414.67 254.41L419.07 250.01M414.67 254.41L410.27 258.81" stroke="#0000ff" stroke-width="1.0" fill="none" stroke-dasharray="2.5 0.8 1.8 9"/><path d="M430.85 283.64V285.64M427.25 283.64H434.45M427.25 285.64H434.45" stroke="#0000ff" stroke-width="0.8" fill="none" stroke-dasharray="2.24 3.36"/><path d="M430.85 284.64L435.25 284.64M430.85 284.64L426.45 284.64M430.85 284.64L430.85 289.04M430.85 284.64L430.85 280.24M430.85 284.64L435.25 289.04M430.85 284.64L426.45 280.24M430.85 284.64L435.25 280.24M430.85 284.64L426.45 289.04" stroke="#0000ff" stroke-width="1.0" fill="none" stroke-dasharray="2.5 0.8 1.8 9"/><path d="M447.04 310.62V313.02M443.44 310.62H450.64M443.44 313.02H450.64" stroke="#0000ff" stroke-width="0.8" fill="none" stroke-dasharray="2.24 3.36"/><path d="M447.04 311.82L451.44 311.82M447.04 311.82L442.64 311.82M447.04 311.82L447.04 316.22M447.04 311.82L447.04 307.42M447.04 311.82L451.44 316.22M447.04 311.82L442.64 307.42M447.04 311.82L451.44 307.42M447.04 311.82L442.64 316.22" stroke="#0000ff" stroke-width="1.0" fill="none" stroke-dasharray="2.5 0.8 1.8 9"/><path d="M463.23 334.84V337.24M459.63 334.84H466.83M459.63 337.24H466.83" stroke="#0000ff" stroke-width="0.8" fill="none" stroke-dasharray="2.24 3.36"/><path d="M463.23 336.04L467.63 336.04M463.23 336.04L458.83 336.04M463.23 336.04L463.23 340.44M463.23 336.04L463.23 331.64M463.23 336.04L467.63 340.44M463.23 336.04L458.83 331.64M463.23 336.04L467.63 331.64M463.23 336.04L458.83 340.44" stroke="#0000ff" stroke-width="1.0" fill="none" stroke-dasharray="2.5 0.8 1.8 9"/><path d="M479.42 354.59V356.99M475.82 354.59H483.02M475.82 356.99H483.02" stroke="#0000ff" stroke-width="0.8" fill="none" stroke-dasharray="2.24 3.36"/><path d="M479.42 355.79L483.82 355.79M479.42 355.79L475.02 355.79M479.42 355.79L479.42 360.19M479.42 355.79L479.42 351.39M479.42 355.79L483.82 360.19M479.42 355.79L475.02 351.39M479.42 355.79L483.82 351.39M479.42 355.79L475.02 360.19" stroke="#0000ff" stroke-width="1.0" fill="none" stroke-dasharray="2.5 0.8 1.8 9"/><path d="M495.61 369.87V372.27M492.01 369.87H499.21M492.01 372.27H499.21" stroke="#0000ff" stroke-width="0.8" fill="none" stroke-dasharray="2.24 3.36"/><path d="M495.61 371.07L500.01 371.07M495.61 371.07L491.21 371.07M495.61 371.07L495.61 375.47M495.61 371.07L495.61 366.67M495.61 371.07L500.01 375.47M495.61 371.07L491.21 366.67M495.61 371.07L500.01 366.67M495.61 371.07L491.21 375.47" stroke="#0000ff" stroke-width="1.0" fill="none" stroke-dasharray="2.5 0.8 1.8 9"/><path d="M511.79 382.24V384.64M508.19 382.24H515.39M508.19 384.64H515.39" stroke="#0000ff" stroke-width="0.8" fill="none" stroke-dasharray="2.24 3.36"/><path d="M511.79 383.44L516.19 383.44M511.79 383.44L507.39 383.44M511.79 383.44L511.79 387.84M511.79 383.44L511.79 379.04M511.79 383.44L516.19 387.84M511.79 383.44L507.39 379.04M511.79 383.44L516.19 379.04M511.79 383.44L507.39 387.84" stroke="#0000ff" stroke-width="1.0" fill="none" stroke-dasharray="2.5 0.8 1.8 9"/><path d="M527.98 391.2V393.6M524.38 391.2H531.58M524.38 393.6H531.58" stroke="#0000ff" stroke-width="0.8" fill="none" stroke-dasharray="2.24 3.36"/><path d="M527.98 392.4L532.38 392.4M527.98 392.4L523.58 392.4M527.98 392.4L527.98 396.8M527.98 392.4L527.98 388M527.98 392.4L532.38 396.8M527.98 392.4L523.58 388M527.98 392.4L532.38 388M527.98 392.4L523.58 396.8" stroke="#0000ff" stroke-width="1.0" fill="none" stroke-dasharray="2.5 0.8 1.8 9"/><path d="M544.17 401.04V403.44M540.57 401.04H547.77M540.57 403.44H547.77" stroke="#0000ff" stroke-width="0.8" fill="none" stroke-dasharray="2.24 3.36"/><path d="M544.17 402.24L548.57 402.24M544.17 402.24L539.77 402.24M544.17 402.24L544.17 406.64M544.17 402.24L544.17 397.84M544.17 402.24L548.57 406.64M544.17 402.24L539.77 397.84M544.17 402.24L548.57 397.84M544.17 402.24L539.77 406.64" stroke="#0000ff" stroke-width="1.0" fill="none" stroke-dasharray="2.5 0.8 1.8 9"/><path d="M560.36 408.1V410.5M556.76 408.1H563.96M556.76 410.5H563.96" stroke="#0000ff" stroke-width="0.8" fill="none" stroke-dasharray="2.24 3.36"/><path d="M560.36 409.3L564.76 409.3M560.36 409.3L555.96 409.3M560.36 409.3L560.36 413.7M560.36 409.3L560.36 404.9M560.36 409.3L564.76 413.7M560.36 409.3L555.96 404.9M560.36 409.3L564.76 404.9M560.36 409.3L555.96 413.7" stroke="#0000ff" stroke-width="1.0" fill="none" stroke-dasharray="2.5 0.8 1.8 9"/><path d="M576.55 413.09V415.09M572.95 413.09H580.15M572.95 415.09H580.15" stroke="#0000ff" stroke-width="0.8" fill="none" stroke-dasharray="2.24 3.36"/><path d="M576.55 414.09L580.95 414.09M576.55 414.09L572.15 414.09M576.55 414.09L576.55 418.49M576.55 414.09L576.55 409.69M576.55 414.09L580.95 418.49M576.55 414.09L572.15 409.69M576.55 414.09L580.95 409.69M576.55 414.09L572.15 418.49" stroke="#0000ff" stroke-width="1.0" fill="none" stroke-dasharray="2.5 0.8 1.8 9"/><path d="M592.73 417.77V419.37M589.13 417.77H596.33M589.13 419.37H596.33" stroke="#0000ff" stroke-width="0.8" fill="none" stroke-dasharray="2.24 3.36"/><path d="M592.73 418.57L597.13 418.57M592.73 418.57L588.33 418.57M592.73 418.57L592.73 422.97M592.73 418.57L592.73 414.17M592.73 418.57L597.13 422.97M592.73 418.57L588.33 414.17M592.73 418.57L597.13 414.17M592.73 418.57L588.33 422.97" stroke="#0000ff" stroke-width="1.0" fill="none" stroke-dasharray="2.5 0.8 1.8 9"/><path d="M608.92 421.62V423.22M605.32 421.62H612.52M605.32 423.22H612.52" stroke="#0000ff" stroke-width="0.8" fill="none" stroke-dasharray="2.24 3.36"/><path d="M608.92 422.42L613.32 422.42M608.92 422.42L604.52 422.42M608.92 422.42L608.92 426.82M608.92 422.42L608.92 418.02M608.92 422.42L613.32 426.82M608.92 422.42L604.52 418.02M608.92 422.42L613.32 418.02M608.92 422.42L604.52 426.82" stroke="#0000ff" stroke-width="1.0" fill="none" stroke-dasharray="2.5 0.8 1.8 9"/><path d="M625.11 424.88V426.48M621.51 424.88H628.71M621.51 426.48H628.71" stroke="#0000ff" stroke-width="0.8" fill="none" stroke-dasharray="2.24 3.36"/><path d="M625.11 425.68L629.51 425.68M625.11 425.68L620.71 425.68M625.11 425.68L625.11 430.08M625.11 425.68L625.11 421.28M625.11 425.68L629.51 430.08M625.11 425.68L620.71 421.28M625.11 425.68L629.51 421.28M625.11 425.68L620.71 430.08" stroke="#0000ff" stroke-width="1.0" fill="none" stroke-dasharray="2.5 0.8 1.8 9"/><path d="M641.3 427.78V429.38M637.7 427.78H644.9M637.7 429.38H644.9" stroke="#0000ff" stroke-width="0.8" fill="none" stroke-dasharray="2.24 3.36"/><path d="M641.3 428.58L645.7 428.58M641.3 428.58L636.9 428.58M641.3 428.58L641.3 432.98M641.3 428.58L641.3 424.18M641.3 428.58L645.7 432.98M641.3 428.58L636.9 424.18M641.3 428.58L645.7 424.18M641.3 428.58L636.9 432.98" stroke="#0000ff" stroke-width="1.0" fill="none" stroke-dasharray="2.5 0.8 1.8 9"/><path d="M657.49 430.41V432.01M653.89 430.41H661.09M653.89 432.01H661.09" stroke="#0000ff" stroke-width="0.8" fill="none" stroke-dasharray="2.24 3.36"/><path d="M657.49 431.21L661.89 431.21M657.49 431.21L653.09 431.21M657.49 431.21L657.49 435.61M657.49 431.21L657.49 426.81M657.49 431.21L661.89 435.61M657.49 431.21L653.09 426.81M657.49 431.21L661.89 426.81M657.49 431.21L653.09 435.61" stroke="#0000ff" stroke-width="1.0" fill="none" stroke-dasharray="2.5 0.8 1.8 9"/><path d="M673.67 432.73V434.33M670.07 432.73H677.27M670.07 434.33H677.27" stroke="#0000ff" stroke-width="0.8" fill="none" stroke-dasharray="2.24 3.36"/><path d="M673.67 433.53L678.07 433.53M673.67 433.53L669.27 433.53M673.67 433.53L673.67 437.93M673.67 433.53L673.67 429.13M673.67 433.53L678.07 437.93M673.67 433.53L669.27 429.13M673.67 433.53L678.07 429.13M673.67 433.53L669.27 437.93" stroke="#0000ff" stroke-width="1.0" fill="none" stroke-dasharray="2.5 0.8 1.8 9"/><path d="M689.86 434.62V436.22M686.26 434.62H693.46M686.26 436.22H693.46" stroke="#0000ff" stroke-width="0.8" fill="none" stroke-dasharray="2.24 3.36"/><path d="M689.86 435.42L694.26 435.42M689.86 435.42L685.46 435.42M689.86 435.42L689.86 439.82M689.86 435.42L689.86 431.02M689.86 435.42L694.26 439.82M689.86 435.42L685.46 431.02M689.86 435.42L694.26 431.02M689.86 435.42L685.46 439.82" stroke="#0000ff" stroke-width="1.0" fill="none" stroke-dasharray="2.5 0.8 1.8 9"/><path d="M706.05 436.57V438.17M702.45 436.57H709.65M702.45 438.17H709.65" stroke="#0000ff" stroke-width="0.8" fill="none" stroke-dasharray="2.24 3.36"/><path d="M706.05 437.37L710.45 437.37M706.05 437.37L701.65 437.37M706.05 437.37L706.05 441.77M706.05 437.37L706.05 432.97M706.05 437.37L710.45 441.77M706.05 437.37L701.65 432.97M706.05 437.37L710.45 432.97M706.05 437.37L701.65 441.77" stroke="#0000ff" stroke-width="1.0" fill="none" stroke-dasharray="2.5 0.8 1.8 9"/><path d="M722.24 438.1V439.7M718.64 438.1H725.84M718.64 439.7H725.84" stroke="#0000ff" stroke-width="0.8" fill="none" stroke-dasharray="2.24 3.36"/><path d="M722.24 438.9L726.64 438.9M722.24 438.9L717.84 438.9M722.24 438.9L722.24 443.3M722.24 438.9L722.24 434.5M722.24 438.9L726.64 443.3M722.24 438.9L717.84 434.5M722.24 438.9L726.64 434.5M722.24 438.9L717.84 443.3" stroke="#0000ff" stroke-width="1.0" fill="none" stroke-dasharray="2.5 0.8 1.8 9"/><path d="M738.43 439.68V441.28M734.83 439.68H742.03M734.83 441.28H742.03" stroke="#0000ff" stroke-width="0.8" fill="none" stroke-dasharray="2.24 3.36"/><path d="M738.43 440.48L742.83 440.48M738.43 440.48L734.03 440.48M738.43 440.48L738.43 444.88M738.43 440.48L738.43 436.08M738.43 440.48L742.83 444.88M738.43 440.48L734.03 436.08M738.43 440.48L742.83 436.08M738.43 440.48L734.03 444.88" stroke="#0000ff" stroke-width="1.0" fill="none" stroke-dasharray="2.5 0.8 1.8 9"/><path d="M754.61 440.94V442.54M751.01 440.94H758.21M751.01 442.54H758.21" stroke="#0000ff" stroke-width="0.8" fill="none" stroke-dasharray="2.24 3.36"/><path d="M754.61 441.74L759.01 441.74M754.61 441.74L750.21 441.74M754.61 441.74L754.61 446.14M754.61 441.74L754.61 437.34M754.61 441.74L759.01 446.14M754.61 441.74L750.21 437.34M754.61 441.74L759.01 437.34M754.61 441.74L750.21 446.14" stroke="#0000ff" stroke-width="1.0" fill="none" stroke-dasharray="2.5 0.8 1.8 9"/><path d="M770.8 442.37V443.97M767.2 442.37H774.4M767.2 443.97H774.4" stroke="#0000ff" stroke-width="0.8" fill="none" stroke-dasharray="2.24 3.36"/><path d="M770.8 443.17L775.2 443.17M770.8 443.17L766.4 443.17M770.8 443.17L770.8 447.57M770.8 443.17L770.8 438.77M770.8 443.17L775.2 447.57M770.8 443.17L766.4 438.77M770.8 443.17L775.2 438.77M770.8 443.17L766.4 447.57" stroke="#0000ff" stroke-width="1.0" fill="none" stroke-dasharray="2.5 0.8 1.8 9"/><path d="M786.99 443.68V445.28M783.39 443.68H790.59M783.39 445.28H790.59" stroke="#0000ff" stroke-width="0.8" fill="none" stroke-dasharray="2.24 3.36"/><path d="M786.99 444.48L791.39 444.48M786.99 444.48L782.59 444.48M786.99 444.48L786.99 448.88M786.99 444.48L786.99 440.08M786.99 444.48L791.39 448.88M786.99 444.48L782.59 440.08M786.99 444.48L791.39 440.08M786.99 444.48L782.59 448.88" stroke="#0000ff" stroke-width="1.0" fill="none" stroke-dasharray="2.5 0.8 1.8 9"/>
<path d="M99.1 89.82 L107.09 89.82 L123.28 86.66 L139.47 83.77 L155.66 81.13 L171.85 80.61 L188.03 81.13 L204.22 83.77 L220.41 87.45 L236.6 93.77 L252.79 102.31 L268.97 114.84 L285.16 129.59 L301.35 149.07 L317.54 172.25 L333.73 196.47 L349.91 224.12 L366.1 251.25 L382.29 277.06 L398.48 300.76 L414.67 321.3 L430.85 339.73 L447.04 355.27 L463.23 367.75 L479.42 379.23 L495.61 388.18 L511.79 396.61 L527.98 403.25 L544.17 409.04 L560.36 413.67 L576.55 417.68 L592.73 421.57 L608.92 424.84 L625.11 427.74 L641.3 430.32 L657.49 432.84 L673.67 435.06 L689.86 436.9 L706.05 438.74 L722.24 440.32 L738.43 441.9 L754.61 443.22 L770.8 444.54 L786.99 445.85" stroke="#ff00ff" stroke-width="0.8" fill="none" stroke-dasharray="1.12 1.68" stroke-linejoin="round"/><path d="M107.09 84.02V95.62M103.49 84.02H110.69M103.49 95.62H110.69" stroke="#ff00ff" stroke-width="0.8" fill="none" stroke-dasharray="1.12 1.68"/><rect x="103.49" y="86.22" width="7.2" height="7.2" stroke="#ff00ff" stroke-width="0.8" fill="none"/><rect x="106.59" y="89.32" width="1" height="1" fill="#ff00ff"/><path d="M123.28 81.26V92.06M119.68 81.26H126.88M119.68 92.06H126.88" stroke="#ff00ff" stroke-width="0.8" fill="none" stroke-dasharray="1.12 1.68"/><rect x="119.68" y="83.06" width="7.2" height="7.2" stroke="#ff00ff" stroke-width="0.8" fill="none"/><rect x="122.78" y="86.16" width="1" height="1" fill="#ff00ff"/><path d="M139.47 78.87V88.67M135.87 78.87H143.07M135.87 88.67H143.07" stroke="#ff00ff" stroke-width="0.8" fill="none" stroke-dasharray="1.12 1.68"/><rect x="135.87" y="80.17" width="7.2" height="7.2" stroke="#ff00ff" stroke-width="0.8" fill="none"/><rect x="138.97" y="83.27" width="1" height="1" fill="#ff00ff"/><path d="M155.66 76.63V85.63M152.06 76.63H159.26M152.06 85.63H159.26" stroke="#ff00ff" stroke-width="0.8" fill="none" stroke-dasharray="1.12 1.68"/><rect x="152.06" y="77.53" width="7.2" height="7.2" stroke="#ff00ff" stroke-width="0.8" fill="none"/><rect x="155.16" y="80.63" width="1" height="1" fill="#ff00ff"/><path d="M171.85 76.41V84.81M168.25 76.41H175.45M168.25 84.81H175.45" stroke="#ff00ff" stroke-width="0.8" fill="none" stroke-dasharray="1.12 1.68"/><rect x="168.25" y="77.01" width="7.2" height="7.2" stroke="#ff00ff" stroke-width="0.8" fill="none"/><rect x="171.35" y="80.11" width="1" height="1" fill="#ff00ff"/><path d="M188.03 77.13V85.13M184.43 77.13H191.63M184.43 85.13H191.63" stroke="#ff00ff" stroke-width="0.8" fill="none" stroke-dasharray="1.12 1.68"/><rect x="184.43" y="77.53" width="7.2" height="7.2" stroke="#ff00ff" stroke-width="0.8" fill="none"/><rect x="187.53" y="80.63" width="1" height="1" fill="#ff00ff"/><path d="M204.22 79.97V87.57M200.62 79.97H207.82M200.62 87.57H207.82" stroke="#ff00ff" stroke-width="0.8" fill="none" stroke-dasharray="1.12 1.68"/><rect x="200.62" y="80.17" width="7.2" height="7.2" stroke="#ff00ff" stroke-width="0.8" fill="none"/><rect x="203.72" y="83.27" width="1" height="1" fill="#ff00ff"/><path d="M220.41 83.85V91.05M216.81 83.85H224.01M216.81 91.05H224.01" stroke="#ff00ff" stroke-width="0.8" fill="none" stroke-dasharray="1.12 1.68"/><rect x="216.81" y="83.85" width="7.2" height="7.2" stroke="#ff00ff" stroke-width="0.8" fill="none"/><rect x="219.91" y="86.95" width="1" height="1" fill="#ff00ff"/><path d="M236.6 90.37V97.17M233 90.37H240.2M233 97.17H240.2" stroke="#ff00ff" stroke-width="0.8" fill="none" stroke-dasharray="1.12 1.68"/><rect x="233" y="90.17" width="7.2" height="7.2" stroke="#ff00ff" stroke-width="0.8" fill="none"/><rect x="236.1" y="93.27" width="1" height="1" fill="#ff00ff"/><path d="M252.79 99.11V105.51M249.19 99.11H256.39M249.19 105.51H256.39" stroke="#ff00ff" stroke-width="0.8" fill="none" stroke-dasharray="1.12 1.68"/><rect x="249.19" y="98.71" width="7.2" height="7.2" stroke="#ff00ff" stroke-width="0.8" fill="none"/><rect x="252.29" y="101.81" width="1" height="1" fill="#ff00ff"/><path d="M268.97 111.84V117.84M265.37 111.84H272.57M265.37 117.84H272.57" stroke="#ff00ff" stroke-width="0.8" fill="none" stroke-dasharray="1.12 1.68"/><rect x="265.37" y="111.24" width="7.2" height="7.2" stroke="#ff00ff" stroke-width="0.8" fill="none"/><rect x="268.47" y="114.34" width="1" height="1" fill="#ff00ff"/><path d="M285.16 126.79V132.39M281.56 126.79H288.76M281.56 132.39H288.76" stroke="#ff00ff" stroke-width="0.8" fill="none" stroke-dasharray="1.12 1.68"/><rect x="281.56" y="125.99" width="7.2" height="7.2" stroke="#ff00ff" stroke-width="0.8" fill="none"/><rect x="284.66" y="129.09" width="1" height="1" fill="#ff00ff"/><path d="M301.35 146.47V151.67M297.75 146.47H304.95M297.75 151.67H304.95" stroke="#ff00ff" stroke-width="0.8" fill="none" stroke-dasharray="1.12 1.68"/><rect x="297.75" y="145.47" width="7.2" height="7.2" stroke="#ff00ff" stroke-width="0.8" fill="none"/><rect x="300.85" y="148.57" width="1" height="1" fill="#ff00ff"/><path d="M317.54 169.75V174.75M313.94 169.75H321.14M313.94 174.75H321.14" stroke="#ff00ff" stroke-width="0.8" fill="none" stroke-dasharray="1.12 1.68"/><rect x="313.94" y="168.65" width="7.2" height="7.2" stroke="#ff00ff" stroke-width="0.8" fill="none"/><rect x="317.04" y="171.75" width="1" height="1" fill="#ff00ff"/><path d="M333.73 194.07V198.87M330.13 194.07H337.33M330.13 198.87H337.33" stroke="#ff00ff" stroke-width="0.8" fill="none" stroke-dasharray="1.12 1.68"/><rect x="330.13" y="192.87" width="7.2" height="7.2" stroke="#ff00ff" stroke-width="0.8" fill="none"/><rect x="333.23" y="195.97" width="1" height="1" fill="#ff00ff"/><path d="M349.91 221.82V226.42M346.31 221.82H353.51M346.31 226.42H353.51" stroke="#ff00ff" stroke-width="0.8" fill="none" stroke-dasharray="1.12 1.68"/><rect x="346.31" y="220.52" width="7.2" height="7.2" stroke="#ff00ff" stroke-width="0.8" fill="none"/><rect x="349.41" y="223.62" width="1" height="1" fill="#ff00ff"/><path d="M366.1 249.05V253.45M362.5 249.05H369.7M362.5 253.45H369.7" stroke="#ff00ff" stroke-width="0.8" fill="none" stroke-dasharray="1.12 1.68"/><rect x="362.5" y="247.65" width="7.2" height="7.2" stroke="#ff00ff" stroke-width="0.8" fill="none"/><rect x="365.6" y="250.75" width="1" height="1" fill="#ff00ff"/><path d="M382.29 274.86V279.26M378.69 274.86H385.89M378.69 279.26H385.89" stroke="#ff00ff" stroke-width="0.8" fill="none" stroke-dasharray="1.12 1.68"/><rect x="378.69" y="273.46" width="7.2" height="7.2" stroke="#ff00ff" stroke-width="0.8" fill="none"/><rect x="381.79" y="276.56" width="1" height="1" fill="#ff00ff"/><path d="M398.48 298.56V302.96M394.88 298.56H402.08M394.88 302.96H402.08" stroke="#ff00ff" stroke-width="0.8" fill="none" stroke-dasharray="1.12 1.68"/><rect x="394.88" y="297.16" width="7.2" height="7.2" stroke="#ff00ff" stroke-width="0.8" fill="none"/><rect x="397.98" y="300.26" width="1" height="1" fill="#ff00ff"/><path d="M414.67 319.1V323.5M411.07 319.1H418.27M411.07 323.5H418.27" stroke="#ff00ff" stroke-width="0.8" fill="none" stroke-dasharray="1.12 1.68"/><rect x="411.07" y="317.7" width="7.2" height="7.2" stroke="#ff00ff" stroke-width="0.8" fill="none"/><rect x="414.17" y="320.8" width="1" height="1" fill="#ff00ff"/><path d="M430.85 337.53V341.93M427.25 337.53H434.45M427.25 341.93H434.45" stroke="#ff00ff" stroke-width="0.8" fill="none" stroke-dasharray="1.12 1.68"/><rect x="427.25" y="336.13" width="7.2" height="7.2" stroke="#ff00ff" stroke-width="0.8" fill="none"/><rect x="430.35" y="339.23" width="1" height="1" fill="#ff00ff"/><path d="M447.04 353.07V357.47M443.44 353.07H450.64M443.44 357.47H450.64" stroke="#ff00ff" stroke-width="0.8" fill="none" stroke-dasharray="1.12 1.68"/><rect x="443.44" y="351.67" width="7.2" height="7.2" stroke="#ff00ff" stroke-width="0.8" fill="none"/><rect x="446.54" y="354.77" width="1" height="1" fill="#ff00ff"/><path d="M463.23 365.55V369.95M459.63 365.55H466.83M459.63 369.95H466.83" stroke="#ff00ff" stroke-width="0.8" fill="none" stroke-dasharray="1.12 1.68"/><rect x="459.63" y="364.15" width="7.2" height="7.2" stroke="#ff00ff" stroke-width="0.8" fill="none"/><rect x="462.73" y="367.25" width="1" height="1" fill="#ff00ff"/><path d="M479.42 377.03V381.43M475.82 377.03H483.02M475.82 381.43H483.02" stroke="#ff00ff" stroke-width="0.8" fill="none" stroke-dasharray="1.12 1.68"/><rect x="475.82" y="375.63" width="7.2" height="7.2" stroke="#ff00ff" stroke-width="0.8" fill="none"/><rect x="478.92" y="378.73" width="1" height="1" fill="#ff00ff"/><path d="M495.61 385.98V390.38M492.01 385.98H499.21M492.01 390.38H499.21" stroke="#ff00ff" stroke-width="0.8" fill="none" stroke-dasharray="1.12 1.68"/><rect x="492.01" y="384.58" width="7.2" height="7.2" stroke="#ff00ff" stroke-width="0.8" fill="none"/><rect x="495.11" y="387.68" width="1" height="1" fill="#ff00ff"/><path d="M511.79 394.41V398.81M508.19 394.41H515.39M508.19 398.81H515.39" stroke="#ff00ff" stroke-width="0.8" fill="none" stroke-dasharray="1.12 1.68"/><rect x="508.19" y="393.01" width="7.2" height="7.2" stroke="#ff00ff" stroke-width="0.8" fill="none"/><rect x="511.29" y="396.11" width="1" height="1" fill="#ff00ff"/><path d="M527.98 401.05V405.45M524.38 401.05H531.58M524.38 405.45H531.58" stroke="#ff00ff" stroke-width="0.8" fill="none" stroke-dasharray="1.12 1.68"/><rect x="524.38" y="399.65" width="7.2" height="7.2" stroke="#ff00ff" stroke-width="0.8" fill="none"/><rect x="527.48" y="402.75" width="1" height="1" fill="#ff00ff"/><path d="M544.17 406.84V411.24M540.57 406.84H547.77M540.57 411.24H547.77" stroke="#ff00ff" stroke-width="0.8" fill="none" stroke-dasharray="1.12 1.68"/><rect x="540.57" y="405.44" width="7.2" height="7.2" stroke="#ff00ff" stroke-width="0.8" fill="none"/><rect x="543.67" y="408.54" width="1" height="1" fill="#ff00ff"/><path d="M560.36 411.47V415.87M556.76 411.47H563.96M556.76 415.87H563.96" stroke="#ff00ff" stroke-width="0.8" fill="none" stroke-dasharray="1.12 1.68"/><rect x="556.76" y="410.07" width="7.2" height="7.2" stroke="#ff00ff" stroke-width="0.8" fill="none"/><rect x="559.86" y="413.17" width="1" height="1" fill="#ff00ff"/><path d="M576.55 415.48V419.88M572.95 415.48H580.15M572.95 419.88H580.15" stroke="#ff00ff" stroke-width="0.8" fill="none" stroke-dasharray="1.12 1.68"/><rect x="572.95" y="414.08" width="7.2" height="7.2" stroke="#ff00ff" stroke-width="0.8" fill="none"/><rect x="576.05" y="417.18" width="1" height="1" fill="#ff00ff"/><path d="M592.73 419.37V423.77M589.13 419.37H596.33M589.13 423.77H596.33" stroke="#ff00ff" stroke-width="0.8" fill="none" stroke-dasharray="1.12 1.68"/><rect x="589.13" y="417.97" width="7.2" height="7.2" stroke="#ff00ff" stroke-width="0.8" fill="none"/><rect x="592.23" y="421.07" width="1" height="1" fill="#ff00ff"/><path d="M608.92 422.64V427.04M605.32 422.64H612.52M605.32 427.04H612.52" stroke="#ff00ff" stroke-width="0.8" fill="none" stroke-dasharray="1.12 1.68"/><rect x="605.32" y="421.24" width="7.2" height="7.2" stroke="#ff00ff" stroke-width="0.8" fill="none"/><rect x="608.42" y="424.34" width="1" height="1" fill="#ff00ff"/><path d="M625.11 425.54V429.94M621.51 425.54H628.71M621.51 429.94H628.71" stroke="#ff00ff" stroke-width="0.8" fill="none" stroke-dasharray="1.12 1.68"/><rect x="621.51" y="424.14" width="7.2" height="7.2" stroke="#ff00ff" stroke-width="0.8" fill="none"/><rect x="624.61" y="427.24" width="1" height="1" fill="#ff00ff"/><path d="M641.3 428.12V432.52M637.7 428.12H644.9M637.7 432.52H644.9" stroke="#ff00ff" stroke-width="0.8" fill="none" stroke-dasharray="1.12 1.68"/><rect x="637.7" y="426.72" width="7.2" height="7.2" stroke="#ff00ff" stroke-width="0.8" fill="none"/><rect x="640.8" y="429.82" width="1" height="1" fill="#ff00ff"/><path d="M657.49 430.64V435.04M653.89 430.64H661.09M653.89 435.04H661.09" stroke="#ff00ff" stroke-width="0.8" fill="none" stroke-dasharray="1.12 1.68"/><rect x="653.89" y="429.24" width="7.2" height="7.2" stroke="#ff00ff" stroke-width="0.8" fill="none"/><rect x="656.99" y="432.34" width="1" height="1" fill="#ff00ff"/><path d="M673.67 432.86V437.26M670.07 432.86H677.27M670.07 437.26H677.27" stroke="#ff00ff" stroke-width="0.8" fill="none" stroke-dasharray="1.12 1.68"/><rect x="670.07" y="431.46" width="7.2" height="7.2" stroke="#ff00ff" stroke-width="0.8" fill="none"/><rect x="673.17" y="434.56" width="1" height="1" fill="#ff00ff"/><path d="M689.86 434.7V439.1M686.26 434.7H693.46M686.26 439.1H693.46" stroke="#ff00ff" stroke-width="0.8" fill="none" stroke-dasharray="1.12 1.68"/><rect x="686.26" y="433.3" width="7.2" height="7.2" stroke="#ff00ff" stroke-width="0.8" fill="none"/><rect x="689.36" y="436.4" width="1" height="1" fill="#ff00ff"/><path d="M706.05 436.54V440.94M702.45 436.54H709.65M702.45 440.94H709.65" stroke="#ff00ff" stroke-width="0.8" fill="none" stroke-dasharray="1.12 1.68"/><rect x="702.45" y="435.14" width="7.2" height="7.2" stroke="#ff00ff" stroke-width="0.8" fill="none"/><rect x="705.55" y="438.24" width="1" height="1" fill="#ff00ff"/><path d="M722.24 438.12V442.52M718.64 438.12H725.84M718.64 442.52H725.84" stroke="#ff00ff" stroke-width="0.8" fill="none" stroke-dasharray="1.12 1.68"/><rect x="718.64" y="436.72" width="7.2" height="7.2" stroke="#ff00ff" stroke-width="0.8" fill="none"/><rect x="721.74" y="439.82" width="1" height="1" fill="#ff00ff"/><path d="M738.43 439.7V444.1M734.83 439.7H742.03M734.83 444.1H742.03" stroke="#ff00ff" stroke-width="0.8" fill="none" stroke-dasharray="1.12 1.68"/><rect x="734.83" y="438.3" width="7.2" height="7.2" stroke="#ff00ff" stroke-width="0.8" fill="none"/><rect x="737.93" y="441.4" width="1" height="1" fill="#ff00ff"/><path d="M754.61 441.02V445.42M751.01 441.02H758.21M751.01 445.42H758.21" stroke="#ff00ff" stroke-width="0.8" fill="none" stroke-dasharray="1.12 1.68"/><rect x="751.01" y="439.62" width="7.2" height="7.2" stroke="#ff00ff" stroke-width="0.8" fill="none"/><rect x="754.11" y="442.72" width="1" height="1" fill="#ff00ff"/><path d="M770.8 442.34V446.74M767.2 442.34H774.4M767.2 446.74H774.4" stroke="#ff00ff" stroke-width="0.8" fill="none" stroke-dasharray="1.12 1.68"/><rect x="767.2" y="440.94" width="7.2" height="7.2" stroke="#ff00ff" stroke-width="0.8" fill="none"/><rect x="770.3" y="444.04" width="1" height="1" fill="#ff00ff"/><path d="M786.99 443.65V448.05M783.39 443.65H790.59M783.39 448.05H790.59" stroke="#ff00ff" stroke-width="0.8" fill="none" stroke-dasharray="1.12 1.68"/><rect x="783.39" y="442.25" width="7.2" height="7.2" stroke="#ff00ff" stroke-width="0.8" fill="none"/><rect x="786.49" y="445.35" width="1" height="1" fill="#ff00ff"/>
<path d="M99.1 81.66 L107.09 81.66 L123.28 82.71 L139.47 84.03 L155.66 84.82 L171.85 85.56 L188.03 87.14 L204.22 89.82 L220.41 93.25 L236.6 99.04 L252.79 106.94 L268.97 116.42 L285.16 129.59 L301.35 145.39 L317.54 164.87 L333.73 186.47 L349.91 210.69 L366.1 235.13 L382.29 260.2 L398.48 283.64 L414.67 305.23 L430.85 325.77 L447.04 342.89 L463.23 357.11 L479.42 369.75 L495.61 380.39 L511.79 389.08 L527.98 396.93 L544.17 403.67 L560.36 409.46 L576.55 414.25 L592.73 418.73 L608.92 422.57 L625.11 425.84 L641.3 428.74 L657.49 431.37 L673.67 433.69 L689.86 435.58 L706.05 437.53 L722.24 439.06 L738.43 440.64 L754.61 441.9 L770.8 443.32 L786.99 444.64" stroke="#00ffff" stroke-width="0.8" fill="none" stroke-dasharray="6.72 2.24 1.12 2.24" stroke-linejoin="round"/><path d="M107.09 80.16V83.16M103.49 80.16H110.69M103.49 83.16H110.69" stroke="#00ffff" stroke-width="0.8" fill="none" stroke-dasharray="6.72 2.24 1.12 2.24"/><rect x="103.49" y="78.06" width="7.2" height="7.2" fill="#00ffff" stroke="none"/><path d="M123.28 81.21V84.21M119.68 81.21H126.88M119.68 84.21H126.88" stroke="#00ffff" stroke-width="0.8" fill="none" stroke-dasharray="6.72 2.24 1.12 2.24"/><rect x="119.68" y="79.11" width="7.2" height="7.2" fill="#00ffff" stroke="none"/><path d="M139.47 82.53V85.53M135.87 82.53H143.07M135.87 85.53H143.07" stroke="#00ffff" stroke-width="0.8" fill="none" stroke-dasharray="6.72 2.24 1.12 2.24"/><rect x="135.87" y="80.43" width="7.2" height="7.2" fill="#00ffff" stroke="none"/><path d="M155.66 83.32V86.32M152.06 83.32H159.26M152.06 86.32H159.26" stroke="#00ffff" stroke-width="0.8" fill="none" stroke-dasharray="6.72 2.24 1.12 2.24"/><rect x="152.06" y="81.22" width="7.2" height="7.2" fill="#00ffff" stroke="none"/><path d="M171.85 84.06V87.06M168.25 84.06H175.45M168.25 87.06H175.45" stroke="#00ffff" stroke-width="0.8" fill="none" stroke-dasharray="6.72 2.24 1.12 2.24"/><rect x="168.25" y="81.96" width="7.2" height="7.2" fill="#00ffff" stroke="none"/><path d="M188.03 85.64V88.64M184.43 85.64H191.63M184.43 88.64H191.63" stroke="#00ffff" stroke-width="0.8" fill="none" stroke-dasharray="6.72 2.24 1.12 2.24"/><rect x="184.43" y="83.54" width="7.2" height="7.2" fill="#00ffff" stroke="none"/><path d="M204.22 88.32V91.32M200.62 88.32H207.82M200.62 91.32H207.82" stroke="#00ffff" stroke-width="0.8" fill="none" stroke-dasharray="6.72 2.24 1.12 2.24"/><rect x="200.62" y="86.22" width="7.2" height="7.2" fill="#00ffff" stroke="none"/><path d="M220.41 91.75V94.75M216.81 91.75H224.01M216.81 94.75H224.01" stroke="#00ffff" stroke-width="0.8" fill="none" stroke-dasharray="6.72 2.24 1.12 2.24"/><rect x="216.81" y="89.65" width="7.2" height="7.2" fill="#00ffff" stroke="none"/><path d="M236.6 97.54V100.54M233 97.54H240.2M233 100.54H240.2" stroke="#00ffff" stroke-width="0.8" fill="none" stroke-dasharray="6.72 2.24 1.12 2.24"/><rect x="233" y="95.44" width="7.2" height="7.2" fill="#00ffff" stroke="none"/><path d="M252.79 105.44V108.44M249.19 105.44H256.39M249.19 108.44H256.39" stroke="#00ffff" stroke-width="0.8" fill="none" stroke-dasharray="6.72 2.24 1.12 2.24"/><rect x="249.19" y="103.34" width="7.2" height="7.2" fill="#00ffff" stroke="none"/><path d="M268.97 114.92V117.92M265.37 114.92H272.57M265.37 117.92H272.57" stroke="#00ffff" stroke-width="0.8" fill="none" stroke-dasharray="6.72 2.24 1.12 2.24"/><rect x="265.37" y="112.82" width="7.2" height="7.2" fill="#00ffff" stroke="none"/><path d="M285.16 128.09V131.09M281.56 128.09H288.76M281.56 131.09H288.76" stroke="#00ffff" stroke-width="0.8" fill="none" stroke-dasharray="6.72 2.24 1.12 2.24"/><rect x="281.56" y="125.99" width="7.2" height="7.2" fill="#00ffff" stroke="none"/><path d="M301.35 143.89V146.89M297.75 143.89H304.95M297.75 146.89H304.95" stroke="#00ffff" stroke-width="0.8" fill="none" stroke-dasharray="6.72 2.24 1.12 2.24"/><rect x="297.75" y="141.79" width="7.2" height="7.2" fill="#00ffff" stroke="none"/><path d="M317.54 163.37V166.37M313.94 163.37H321.14M313.94 166.37H321.14" stroke="#00ffff" stroke-width="0.8" fill="none" stroke-dasharray="6.72 2.24 1.12 2.24"/><rect x="313.94" y="161.27" width="7.2" height="7.2" fill="#00ffff" stroke="none"/><path d="M333.73 184.97V187.97M330.13 184.97H337.33M330.13 187.97H337.33" stroke="#00ffff" stroke-width="0.8" fill="none" stroke-dasharray="6.72 2.24 1.12 2.24"/><rect x="330.13" y="182.87" width="7.2" height="7.2" fill="#00ffff" stroke="none"/><path d="M349.91 209.19V212.19M346.31 209.19H353.51M346.31 212.19H353.51" stroke="#00ffff" stroke-width="0.8" fill="none" stroke-dasharray="6.72 2.24 1.12 2.24"/><rect x="346.31" y="207.09" width="7.2" height="7.2" fill="#00ffff" stroke="none"/><path d="M366.1 233.63V236.63M362.5 233.63H369.7M362.5 236.63H369.7" stroke="#00ffff" stroke-width="0.8" fill="none" stroke-dasharray="6.72 2.24 1.12 2.24"/><rect x="362.5" y="231.53" width="7.2" height="7.2" fill="#00ffff" stroke="none"/><path d="M382.29 258.7V261.7M378.69 258.7H385.89M378.69 261.7H385.89" stroke="#00ffff" stroke-width="0.8" fill="none" stroke-dasharray="6.72 2.24 1.12 2.24"/><rect x="378.69" y="256.6" width="7.2" height="7.2" fill="#00ffff" stroke="none"/><path d="M398.48 282.14V285.14M394.88 282.14H402.08M394.88 285.14H402.08" stroke="#00ffff" stroke-width="0.8" fill="none" stroke-dasharray="6.72 2.24 1.12 2.24"/><rect x="394.88" y="280.04" width="7.2" height="7.2" fill="#00ffff" stroke="none"/><path d="M414.67 303.73V306.73M411.07 303.73H418.27M411.07 306.73H418.27" stroke="#00ffff" stroke-width="0.8" fill="none" stroke-dasharray="6.72 2.24 1.12 2.24"/><rect x="411.07" y="301.63" width="7.2" height="7.2" fill="#00ffff" stroke="none"/><path d="M430.85 324.27V327.27M427.25 324.27H434.45M427.25 327.27H434.45" stroke="#00ffff" stroke-width="0.8" fill="none" stroke-dasharray="6.72 2.24 1.12 2.24"/><rect x="427.25" y="322.17" width="7.2" height="7.2" fill="#00ffff" stroke="none"/><path d="M447.04 341.39V344.39M443.44 341.39H450.64M443.44 344.39H450.64" stroke="#00ffff" stroke-width="0.8" fill="none" stroke-dasharray="6.72 2.24 1.12 2.24"/><rect x="443.44" y="339.29" width="7.2" height="7.2" fill="#00ffff" stroke="none"/><path d="M463.23 355.61V358.61M459.63 355.61H466.83M459.63 358.61H466.83" stroke="#00ffff" stroke-width="0.8" fill="none" stroke-dasharray="6.72 2.24 1.12 2.24"/><rect x="459.63" y="353.51" width="7.2" height="7.2" fill="#00ffff" stroke="none"/><path d="M479.42 368.25V371.25M475.82 368.25H483.02M475.82 371.25H483.02" stroke="#00ffff" stroke-width="0.8" fill="none" stroke-dasharray="6.72 2.24 1.12 2.24"/><rect x="475.82" y="366.15" width="7.2" height="7.2" fill="#00ffff" stroke="none"/><path d="M495.61 378.89V381.89M492.01 378.89H499.21M492.01 381.89H499.21" stroke="#00ffff" stroke-width="0.8" fill="none" stroke-dasharray="6.72 2.24 1.12 2.24"/><rect x="492.01" y="376.79" width="7.2" height="7.2" fill="#00ffff" stroke="none"/><path d="M511.79 387.58V390.58M508.19 387.58H515.39M508.19 390.58H515.39" stroke="#00ffff" stroke-width="0.8" fill="none" stroke-dasharray="6.72 2.24 1.12 2.24"/><rect x="508.19" y="385.48" width="7.2" height="7.2" fill="#00ffff" stroke="none"/><path d="M527.98 395.43V398.43M524.38 395.43H531.58M524.38 398.43H531.58" stroke="#00ffff" stroke-width="0.8" fill="none" stroke-dasharray="6.72 2.24 1.12 2.24"/><rect x="524.38" y="393.33" width="7.2" height="7.2" fill="#00ffff" stroke="none"/><path d="M544.17 402.17V405.17M540.57 402.17H547.77M540.57 405.17H547.77" stroke="#00ffff" stroke-width="0.8" fill="none" stroke-dasharray="6.72 2.24 1.12 2.24"/><rect x="540.57" y="400.07" width="7.2" height="7.2" fill="#00ffff" stroke="none"/><path d="M560.36 407.96V410.96M556.76 407.96H563.96M556.76 410.96H563.96" stroke="#00ffff" stroke-width="0.8" fill="none" stroke-dasharray="6.72 2.24 1.12 2.24"/><rect x="556.76" y="405.86" width="7.2" height="7.2" fill="#00ffff" stroke="none"/><path d="M576.55 412.75V415.75M572.95 412.75H580.15M572.95 415.75H580.15" stroke="#00ffff" stroke-width="0.8" fill="none" stroke-dasharray="6.72 2.24 1.12 2.24"/><rect x="572.95" y="410.65" width="7.2" height="7.2" fill="#00ffff" stroke="none"/><path d="M592.73 417.23V420.23M589.13 417.23H596.33M589.13 420.23H596.33" stroke="#00ffff" stroke-width="0.8" fill="none" stroke-dasharray="6.72 2.24 1.12 2.24"/><rect x="589.13" y="415.13" width="7.2" height="7.2" fill="#00ffff" stroke="none"/><path d="M608.92 421.07V424.07M605.32 421.07H612.52M605.32 424.07H612.52" stroke="#00ffff" stroke-width="0.8" fill="none" stroke-dasharray="6.72 2.24 1.12 2.24"/><rect x="605.32" y="418.97" width="7.2" height="7.2" fill="#00ffff" stroke="none"/><path d="M625.11 424.34V427.34M621.51 424.34H628.71M621.51 427.34H628.71" stroke="#00ffff" stroke-width="0.8" fill="none" stroke-dasharray="6.72 2.24 1.12 2.24"/><rect x="621.51" y="422.24" width="7.2" height="7.2" fill="#00ffff" stroke="none"/><path d="M641.3 427.24V430.24M637.7 427.24H644.9M637.7 430.24H644.9" stroke="#00ffff" stroke-width="0.8" fill="none" stroke-dasharray="6.72 2.24 1.12 2.24"/><rect x="637.7" y="425.14" width="7.2" height="7.2" fill="#00ffff" stroke="none"/><path d="M657.49 429.87V432.87M653.89 429.87H661.09M653.89 432.87H661.09" stroke="#00ffff" stroke-width="0.8" fill="none" stroke-dasharray="6.72 2.24 1.12 2.24"/><rect x="653.89" y="427.77" width="7.2" height="7.2" fill="#00ffff" stroke="none"/><path d="M673.67 432.19V435.19M670.07 432.19H677.27M670.07 435.19H677.27" stroke="#00ffff" stroke-width="0.8" fill="none" stroke-dasharray="6.72 2.24 1.12 2.24"/><rect x="670.07" y="430.09" width="7.2" height="7.2" fill="#00ffff" stroke="none"/><path d="M689.86 434.08V437.08M686.26 434.08H693.46M686.26 437.08H693.46" stroke="#00ffff" stroke-width="0.8" fill="none" stroke-dasharray="6.72 2.24 1.12 2.24"/><rect x="686.26" y="431.98" width="7.2" height="7.2" fill="#00ffff" stroke="none"/><path d="M706.05 436.03V439.03M702.45 436.03H709.65M702.45 439.03H709.65" stroke="#00ffff" stroke-width="0.8" fill="none" stroke-dasharray="6.72 2.24 1.12 2.24"/><rect x="702.45" y="433.93" width="7.2" height="7.2" fill="#00ffff" stroke="none"/><path d="M722.24 437.56V440.56M718.64 437.56H725.84M718.64 440.56H725.84" stroke="#00ffff" stroke-width="0.8" fill="none" stroke-dasharray="6.72 2.24 1.12 2.24"/><rect x="718.64" y="435.46" width="7.2" height="7.2" fill="#00ffff" stroke="none"/><path d="M738.43 439.14V442.14M734.83 439.14H742.03M734.83 442.14H742.03" stroke="#00ffff" stroke-width="0.8" fill="none" stroke-dasharray="6.72 2.24 1.12 2.24"/><rect x="734.83" y="437.04" width="7.2" height="7.2" fill="#00ffff" stroke="none"/><path d="M754.61 440.4V443.4M751.01 440.4H758.21M751.01 443.4H758.21" stroke="#00ffff" stroke-width="0.8" fill="none" stroke-dasharray="6.72 2.24 1.12 2.24"/><rect x="751.01" y="438.3" width="7.2" height="7.2" fill="#00ffff" stroke="none"/><path d="M770.8 441.82V444.82M767.2 441.82H774.4M767.2 444.82H774.4" stroke="#00ffff" stroke-width="0.8" fill="none" stroke-dasharray="6.72 2.24 1.12 2.24"/><rect x="767.2" y="439.72" width="7.2" height="7.2" fill="#00ffff" stroke="none"/><path d="M786.99 443.14V446.14M783.39 443.14H790.59M783.39 446.14H790.59" stroke="#00ffff" stroke-width="0.8" fill="none" stroke-dasharray="6.72 2.24 1.12 2.24"/><rect x="783.39" y="441.04" width="7.2" height="7.2" fill="#00ffff" stroke="none"/>
<rect x="99.1" y="30.1" width="688.05" height="474.65" stroke="#000" stroke-width="1.6" fill="none"/>
<rect x="530.85" y="65.1" width="231.25" height="180.25" fill="#fff" stroke="none"/>
<path d="M530.85 209.42 L533.72 209.42 L550.05 205.54 L566.37 201.75 L582.7 198.82 L599.02 195.89 L615.35 193 L631.68 187.32 L648 175.59 L664.33 161.16 L680.65 149.62 L696.98 139.06 L713.31 132.3 L729.63 126.44 L745.96 121.93 L762.28 118.77" stroke="#ff0000" stroke-width="0.8" fill="none" stroke-linejoin="round"/><path d="M529.72 209.42H537.72M533.72 205.42V213.42" stroke="#ff0000" stroke-width="0.8" fill="none"/><path d="M546.05 205.54H554.05M550.05 201.54V209.54" stroke="#ff0000" stroke-width="0.8" fill="none"/><path d="M562.37 201.75H570.37M566.37 197.75V205.75" stroke="#ff0000" stroke-width="0.8" fill="none"/><path d="M578.7 198.82H586.7M582.7 194.82V202.82" stroke="#ff0000" stroke-width="0.8" fill="none"/><path d="M595.02 195.89H603.02M599.02 191.89V199.89" stroke="#ff0000" stroke-width="0.8" fill="none"/><path d="M611.35 193H619.35M615.35 189V197" stroke="#ff0000" stroke-width="0.8" fill="none"/><path d="M627.68 187.32H635.68M631.68 183.32V191.32" stroke="#ff0000" stroke-width="0.8" fill="none"/><path d="M644 175.59H652M648 171.59V179.59" stroke="#ff0000" stroke-width="0.8" fill="none"/><path d="M660.33 161.16H668.33M664.33 157.16V165.16" stroke="#ff0000" stroke-width="0.8" fill="none"/><path d="M676.65 149.62H684.65M680.65 145.62V153.62" stroke="#ff0000" stroke-width="0.8" fill="none"/><path d="M692.98 139.06H700.98M696.98 135.06V143.06" stroke="#ff0000" stroke-width="0.8" fill="none"/><path d="M709.31 132.3H717.31M713.31 128.3V136.3" stroke="#ff0000" stroke-width="0.8" fill="none"/><path d="M725.63 126.44H733.63M729.63 122.44V130.44" stroke="#ff0000" stroke-width="0.8" fill="none"/><path d="M741.96 121.93H749.96M745.96 117.93V125.93" stroke="#ff0000" stroke-width="0.8" fill="none"/><path d="M758.28 118.77H766.28M762.28 114.77V122.77" stroke="#ff0000" stroke-width="0.8" fill="none"/>
<path d="M530.85 207.48 L533.72 207.48 L550.05 202.66 L566.37 198.82 L582.7 195.53 L599.02 192.42 L615.35 189.58 L631.68 183.94 L648 173.34 L664.33 159.81 L680.65 148.53 L696.98 138.61 L713.31 131.4 L729.63 125.17 L745.96 120.71 L762.28 117.42" stroke="#00ff00" stroke-width="0.8" fill="none" stroke-dasharray="4.48 2.24" stroke-linejoin="round"/><path d="M529.72 203.48L537.72 211.48M529.72 211.48L537.72 203.48" stroke="#00ff00" stroke-width="1.0" fill="none"/><path d="M546.05 198.66L554.05 206.66M546.05 206.66L554.05 198.66" stroke="#00ff00" stroke-width="1.0" fill="none"/><path d="M562.37 194.82L570.37 202.82M562.37 202.82L570.37 194.82" stroke="#00ff00" stroke-width="1.0" fill="none"/><path d="M578.7 191.53L586.7 199.53M578.7 199.53L586.7 191.53" stroke="#00ff00" stroke-width="1.0" fill="none"/><path d="M595.02 188.42L603.02 196.42M595.02 196.42L603.02 188.42" stroke="#00ff00" stroke-width="1.0" fill="none"/><path d="M611.35 185.58L619.35 193.58M611.35 193.58L619.35 185.58" stroke="#00ff00" stroke-width="1.0" fill="none"/><path d="M627.68 179.94L635.68 187.94M627.68 187.94L635.68 179.94" stroke="#00ff00" stroke-width="1.0" fill="none"/><path d="M644 169.34L652 177.34M644 177.34L652 169.34" stroke="#00ff00" stroke-width="1.0" fill="none"/><path d="M660.33 155.81L668.33 163.81M660.33 163.81L668.33 155.81" stroke="#00ff00" stroke-width="1.0" fill="none"/><path d="M676.65 144.53L684.65 152.53M676.65 152.53L684.65 144.53" stroke="#00ff00" stroke-width="1.0" fill="none"/><path d="M692.98 134.61L700.98 142.61M692.98 142.61L700.98 134.61" stroke="#00ff00" stroke-width="1.0" fill="none"/><path d="M709.31 127.4L717.31 135.4M709.31 135.4L717.31 127.4" stroke="#00ff00" stroke-width="1.0" fill="none"/><path d="M725.63 121.17L733.63 129.17M725.63 129.17L733.63 121.17" stroke="#00ff00" stroke-width="1.0" fill="none"/><path d="M741.96 116.71L749.96 124.71M741.96 124.71L749.96 116.71" stroke="#00ff00" stroke-width="1.0" fill="none"/><path d="M758.28 113.42L766.28 121.42M758.28 121.42L766.28 113.42" stroke="#00ff00" stroke-width="1.0" fill="none"/>
<path d="M530.85 174.24 L533.72 174.24 L550.05 170.81 L566.37 168.83 L582.7 167.48 L599.02 165.45 L615.35 161.16 L631.68 152.37 L648 136.13 L664.33 121.29 L680.65 110.65 L696.98 103.89 L713.31 99.11 L729.63 95.77 L745.96 93.33 L762.28 90.81" stroke="#0000ff" stroke-width="0.8" fill="none" stroke-dasharray="2.24 3.36" stroke-linejoin="round"/><path d="M529.72 174.24H537.72M533.72 170.24V178.24" stroke="#0000ff" stroke-width="0.8" fill="none"/><path d="M529.72 170.24L537.72 178.24M529.72 178.24L537.72 170.24" stroke="#0000ff" stroke-width="1.0" fill="none"/><path d="M546.05 170.81H554.05M550.05 166.81V174.81" stroke="#0000ff" stroke-width="0.8" fill="none"/><path d="M546.05 166.81L554.05 174.81M546.05 174.81L554.05 166.81" stroke="#0000ff" stroke-width="1.0" fill="none"/><path d="M562.37 168.83H570.37M566.37 164.83V172.83" stroke="#0000ff" stroke-width="0.8" fill="none"/><path d="M562.37 164.83L570.37 172.83M562.37 172.83L570.37 164.83" stroke="#0000ff" stroke-width="1.0" fill="none"/><path d="M578.7 167.48H586.7M582.7 163.48V171.48" stroke="#0000ff" stroke-width="0.8" fill="none"/><path d="M578.7 163.48L586.7 171.48M578.7 171.48L586.7 163.48" stroke="#0000ff" stroke-width="1.0" fill="none"/><path d="M595.02 165.45H603.02M599.02 161.45V169.45" stroke="#0000ff" stroke-width="0.8" fill="none"/><path d="M595.02 161.45L603.02 169.45M595.02 169.45L603.02 161.45" stroke="#0000ff" stroke-width="1.0" fill="none"/><path d="M611.35 161.16H619.35M615.35 157.16V165.16" stroke="#0000ff" stroke-width="0.8" fill="none"/><path d="M611.35 157.16L619.35 165.16M611.35 165.16L619.35 157.16" stroke="#0000ff" stroke-width="1.0" fill="none"/><path d="M627.68 152.37H635.68M631.68 148.37V156.37" stroke="#0000ff" stroke-width="0.8" fill="none"/><path d="M627.68 148.37L635.68 156.37M627.68 156.37L635.68 148.37" stroke="#0000ff" stroke-width="1.0" fill="none"/><path d="M644 136.13H652M648 132.13V140.13" stroke="#0000ff" stroke-width="0.8" fill="none"/><path d="M644 132.13L652 140.13M644 140.13L652 132.13" stroke="#0000ff" stroke-width="1.0" fill="none"/><path d="M660.33 121.29H668.33M664.33 117.29V125.29" stroke="#0000ff" stroke-width="0.8" fill="none"/><path d="M660.33 117.29L668.33 125.29M660.33 125.29L668.33 117.29" stroke="#0000ff" stroke-width="1.0" fill="none"/><path d="M676.65 110.65H684.65M680.65 106.65V114.65" stroke="#0000ff" stroke-width="0.8" fill="none"/><path d="M676.65 106.65L684.65 114.65M676.65 114.65L684.65 106.65" stroke="#0000ff" stroke-width="1.0" fill="none"/><path d="M692.98 103.89H700.98M696.98 99.89V107.89" stroke="#0000ff" stroke-width="0.8" fill="none"/><path d="M692.98 99.89L700.98 107.89M692.98 107.89L700.98 99.89" stroke="#0000ff" stroke-width="1.0" fill="none"/><path d="M709.31 99.11H717.31M713.31 95.11V103.11" stroke="#0000ff" stroke-width="0.8" fill="none"/><path d="M709.31 95.11L717.31 103.11M709.31 103.11L717.31 95.11" stroke="#0000ff" stroke-width="1.0" fill="none"/><path d="M725.63 95.77H733.63M729.63 91.77V99.77" stroke="#0000ff" stroke-width="0.8" fill="none"/><path d="M725.63 91.77L733.63 99.77M725.63 99.77L733.63 91.77" stroke="#0000ff" stroke-width="1.0" fill="none"/><path d="M741.96 93.33H749.96M745.96 89.33V97.33" stroke="#0000ff" stroke-width="0.8" fill="none"/><path d="M741.96 89.33L749.96 97.33M741.96 97.33L749.96 89.33" stroke="#0000ff" stroke-width="1.0" fill="none"/><path d="M758.28 90.81H766.28M762.28 86.81V94.81" stroke="#0000ff" stroke-width="0.8" fill="none"/><path d="M758.28 86.81L766.28 94.81M758.28 94.81L766.28 86.81" stroke="#0000ff" stroke-width="1.0" fill="none"/>
<path d="M530.85 225.79 L533.72 225.79 L550.05 221.91 L566.37 218.08 L582.7 214.83 L599.02 210.77 L615.35 203.24 L631.68 189.71 L648 173.34 L664.33 158.68 L680.65 148.08 L696.98 139.97 L713.31 134.55 L729.63 130.04 L745.96 127.11 L762.28 124.18" stroke="#ff00ff" stroke-width="0.8" fill="none" stroke-dasharray="1.12 1.68" stroke-linejoin="round"/><rect x="530.12" y="222.19" width="7.2" height="7.2" stroke="#ff00ff" stroke-width="0.8" fill="none"/><rect x="533.22" y="225.29" width="1" height="1" fill="#ff00ff"/><rect x="546.45" y="218.31" width="7.2" height="7.2" stroke="#ff00ff" stroke-width="0.8" fill="none"/><rect x="549.55" y="221.41" width="1" height="1" fill="#ff00ff"/><rect x="562.77" y="214.48" width="7.2" height="7.2" stroke="#ff00ff" stroke-width="0.8" fill="none"/><rect x="565.87" y="217.58" width="1" height="1" fill="#ff00ff"/><rect x="579.1" y="211.23" width="7.2" height="7.2" stroke="#ff00ff" stroke-width="0.8" fill="none"/><rect x="582.2" y="214.33" width="1" height="1" fill="#ff00ff"/><rect x="595.42" y="207.17" width="7.2" height="7.2" stroke="#ff00ff" stroke-width="0.8" fill="none"/><rect x="598.52" y="210.27" width="1" height="1" fill="#ff00ff"/><rect x="611.75" y="199.64" width="7.2" height="7.2" stroke="#ff00ff" stroke-width="0.8" fill="none"/><rect x="614.85" y="202.74" width="1" height="1" fill="#ff00ff"/><rect x="628.08" y="186.11" width="7.2" height="7.2" stroke="#ff00ff" stroke-width="0.8" fill="none"/><rect x="631.18" y="189.21" width="1" height="1" fill="#ff00ff"/><rect x="644.4" y="169.74" width="7.2" height="7.2" stroke="#ff00ff" stroke-width="0.8" fill="none"/><rect x="647.5" y="172.84" width="1" height="1" fill="#ff00ff"/><rect x="660.73" y="155.08" width="7.2" height="7.2" stroke="#ff00ff" stroke-width="0.8" fill="none"/><rect x="663.83" y="158.18" width="1" height="1" fill="#ff00ff"/><rect x="677.05" y="144.48" width="7.2" height="7.2" stroke="#ff00ff" stroke-width="0.8" fill="none"/><rect x="680.15" y="147.58" width="1" height="1" fill="#ff00ff"/><rect x="693.38" y="136.37" width="7.2" height="7.2" stroke="#ff00ff" stroke-width="0.8" fill="none"/><rect x="696.48" y="139.47" width="1" height="1" fill="#ff00ff"/><rect x="709.71" y="130.95" width="7.2" height="7.2" stroke="#ff00ff" stroke-width="0.8" fill="none"/><rect x="712.81" y="134.05" width="1" height="1" fill="#ff00ff"/><rect x="726.03" y="126.44" width="7.2" height="7.2" stroke="#ff00ff" stroke-width="0.8" fill="none"/><rect x="729.13" y="129.54" width="1" height="1" fill="#ff00ff"/><rect x="742.36" y="123.51" width="7.2" height="7.2" stroke="#ff00ff" stroke-width="0.8" fill="none"/><rect x="745.46" y="126.61" width="1" height="1" fill="#ff00ff"/><rect x="758.68" y="120.58" width="7.2" height="7.2" stroke="#ff00ff" stroke-width="0.8" fill="none"/><rect x="761.78" y="123.68" width="1" height="1" fill="#ff00ff"/>
<path d="M530.85 219.61 L533.72 219.61 L550.05 217.54 L566.37 214.83 L582.7 211.68 L599.02 207.89 L615.35 201.75 L631.68 189.71 L648 174.69 L664.33 159.81 L680.65 148.53 L696.98 139.61 L713.31 133.83 L729.63 129.41 L745.96 126.12 L762.28 123.28" stroke="#00ffff" stroke-width="0.8" fill="none" stroke-dasharray="6.72 2.24 1.12 2.24" stroke-linejoin="round"/><rect x="530.12" y="216.01" width="7.2" height="7.2" fill="#00ffff" stroke="none"/><rect x="546.45" y="213.94" width="7.2" height="7.2" fill="#00ffff" stroke="none"/><rect x="562.77" y="211.23" width="7.2" height="7.2" fill="#00ffff" stroke="none"/><rect x="579.1" y="208.08" width="7.2" height="7.2" fill="#00ffff" stroke="none"/><rect x="595.42" y="204.29" width="7.2" height="7.2" fill="#00ffff" stroke="none"/><rect x="611.75" y="198.15" width="7.2" height="7.2" fill="#00ffff" stroke="none"/><rect x="628.08" y="186.11" width="7.2" height="7.2" fill="#00ffff" stroke="none"/><rect x="644.4" y="171.09" width="7.2" height="7.2" fill="#00ffff" stroke="none"/><rect x="660.73" y="156.21" width="7.2" height="7.2" fill="#00ffff" stroke="none"/><rect x="677.05" y="144.93" width="7.2" height="7.2" fill="#00ffff" stroke="none"/><rect x="693.38" y="136.01" width="7.2" height="7.2" fill="#00ffff" stroke="none"/><rect x="709.71" y="130.23" width="7.2" height="7.2" fill="#00ffff" stroke="none"/><rect x="726.03" y="125.81" width="7.2" height="7.2" fill="#00ffff" stroke="none"/><rect x="742.36" y="122.52" width="7.2" height="7.2" fill="#00ffff" stroke="none"/><rect x="758.68" y="119.68" width="7.2" height="7.2" fill="#00ffff" stroke="none"/>
<g stroke="#000" stroke-width="1.6" fill="none"><rect x="530.85" y="65.1" width="231.25" height="180.25"/><path d="M571.66 245.35V238.35M571.66 65.1V72.1"/><path d="M653.28 245.35V238.35M653.28 65.1V72.1"/><path d="M734.89 245.35V238.35M734.89 65.1V72.1"/><path d="M530.85 200.29H537.85M762.1 200.29H755.1"/><path d="M530.85 155.22H537.85M762.1 155.22H755.1"/><path d="M530.85 110.16H537.85M762.1 110.16H755.1"/></g>
<path d="M174.8 383.5H243.2" stroke="#ff0000" stroke-width="0.8" fill="none"/>
<path d="M174.8 379.9V387.1M243.2 379.9V387.1" stroke="#ff0000" stroke-width="0.8" fill="none"/>
<path d="M205 383.5H213M209 379.5V387.5" stroke="#ff0000" stroke-width="0.8" fill="none"/>
<path d="M174.8 408.9H243.2" stroke="#00ff00" stroke-width="0.8" fill="none" stroke-dasharray="4.48 2.24"/>
<path d="M174.8 405.3V412.5M243.2 405.3V412.5" stroke="#00ff00" stroke-width="0.8" fill="none" stroke-dasharray="4.48 2.24"/>
<path d="M205 404.9L213 412.9M205 412.9L213 404.9" stroke="#00ff00" stroke-width="1.0" fill="none"/>
<path d="M174.8 434.3H243.2" stroke="#0000ff" stroke-width="0.8" fill="none" stroke-dasharray="2.24 3.36"/>
<path d="M174.8 430.7V437.9M243.2 430.7V437.9" stroke="#0000ff" stroke-width="0.8" fill="none" stroke-dasharray="2.24 3.36"/>
<path d="M205 434.3H213M209 430.3V438.3" stroke="#0000ff" stroke-width="0.8" fill="none"/><path d="M205 430.3L213 438.3M205 438.3L213 430.3" stroke="#0000ff" stroke-width="1.0" fill="none"/>
<path d="M174.8 459.7H243.2" stroke="#ff00ff" stroke-width="0.8" fill="none" stroke-dasharray="1.12 1.68"/>
<path d="M174.8 456.1V463.3M243.2 456.1V463.3" stroke="#ff00ff" stroke-width="0.8" fill="none" stroke-dasharray="1.12 1.68"/>
<rect x="205.4" y="456.1" width="7.2" height="7.2" stroke="#ff00ff" stroke-width="0.8" fill="none"/><rect x="208.5" y="459.2" width="1" height="1" fill="#ff00ff"/>
<path d="M174.8 485.1H243.2" stroke="#00ffff" stroke-width="0.8" fill="none" stroke-dasharray="6.72 2.24 1.12 2.24"/>
<path d="M174.8 481.5V488.7M243.2 481.5V488.7" stroke="#00ffff" stroke-width="0.8" fill="none" stroke-dasharray="6.72 2.24 1.12 2.24"/>
<rect x="205.4" y="481.5" width="7.2" height="7.2" fill="#00ffff" stroke="none"/>
<g font-family="'Liberation Sans', sans-serif" font-size="25" fill="#000" stroke="#000" stroke-width="0.3" opacity="0.999"><text transform="translate(159.4,392.2) scale(1,1.045)" text-anchor="end">Glu</text><text transform="translate(159.4,417.6) scale(1,1.045)" text-anchor="end">Gln</text><text transform="translate(159.4,443) scale(1,1.045)" text-anchor="end">Lys</text><text transform="translate(159.4,468.4) scale(1,1.045)" text-anchor="end">Asp</text><text transform="translate(159.4,493.8) scale(1,1.045)" text-anchor="end">Asn</text><text transform="translate(83.6,513.3) scale(1,1.045)" text-anchor="end">0</text><text transform="translate(83.6,460.56) scale(1,1.045)" text-anchor="end">1</text><text transform="translate(83.6,407.82) scale(1,1.045)" text-anchor="end">2</text><text transform="translate(83.6,355.08) scale(1,1.045)" text-anchor="end">3</text><text transform="translate(83.6,302.34) scale(1,1.045)" text-anchor="end">4</text><text transform="translate(83.6,249.61) scale(1,1.045)" text-anchor="end">5</text><text transform="translate(83.6,196.87) scale(1,1.045)" text-anchor="end">6</text><text transform="translate(83.6,144.13) scale(1,1.045)" text-anchor="end">7</text><text transform="translate(83.6,91.39) scale(1,1.045)" text-anchor="end">8</text><text transform="translate(83.6,38.65) scale(1,1.045)" text-anchor="end">9</text><text transform="translate(143.17,538.8) scale(1,1.045)" text-anchor="middle">200</text><text transform="translate(224.12,538.8) scale(1,1.045)" text-anchor="middle">300</text><text transform="translate(305.07,538.8) scale(1,1.045)" text-anchor="middle">400</text><text transform="translate(386.01,538.8) scale(1,1.045)" text-anchor="middle">500</text><text transform="translate(466.96,538.8) scale(1,1.045)" text-anchor="middle">600</text><text transform="translate(547.91,538.8) scale(1,1.045)" text-anchor="middle">700</text><text transform="translate(628.86,538.8) scale(1,1.045)" text-anchor="middle">800</text><text transform="translate(709.8,538.8) scale(1,1.045)" text-anchor="middle">900</text><text transform="translate(790.75,538.8) scale(1,1.045)" text-anchor="middle">1000</text><text transform="translate(443,577.3) scale(1,1.045)" text-anchor="middle">T(K)</text><text transform="translate(515.5,253.35) scale(1,1.045)" text-anchor="end">5</text><text transform="translate(515.5,208.29) scale(1,1.045)" text-anchor="end">6</text><text transform="translate(515.5,163.22) scale(1,1.045)" text-anchor="end">7</text><text transform="translate(515.5,118.16) scale(1,1.045)" text-anchor="end">8</text><text transform="translate(515.5,73.1) scale(1,1.045)" text-anchor="end">9</text><text transform="translate(575.26,280.6) scale(1,1.045)" text-anchor="middle">300</text><text transform="translate(656.88,280.6) scale(1,1.045)" text-anchor="middle">600</text><text transform="translate(738.49,280.6) scale(1,1.045)" text-anchor="middle">900</text><text transform="translate(31.5,281.8) rotate(-90) scale(1,1.045)">n<tspan font-size="20" dy="6.7">H</tspan></text><text transform="translate(462.7,174.9) rotate(-90) scale(1,1.045)">R<tspan font-size="20" dy="7.2">gy</tspan></text></g>
</svg>
</body></html>
